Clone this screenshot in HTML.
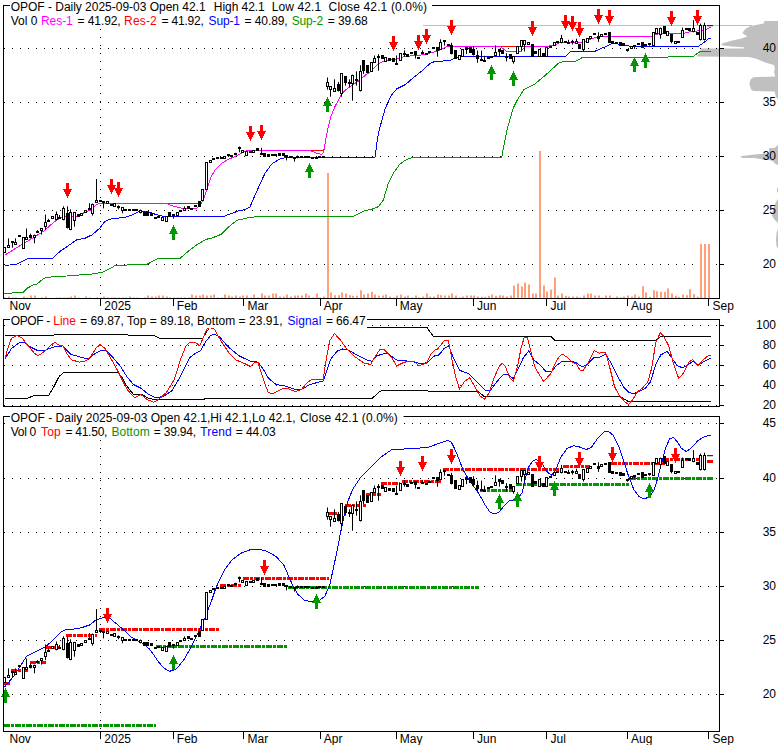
<!DOCTYPE html>
<html><head><meta charset="utf-8"><title>OPOF chart</title>
<style>html,body{margin:0;padding:0;background:#fff}svg{display:block}text{font-family:"Liberation Sans",Arial,sans-serif;font-size:12px}</style></head>
<body><svg width="780" height="745" viewBox="0 0 780 745">
<rect width="780" height="745" fill="#fff"/>
<polygon points="778.0,21.0 764.5,21.1 763.7,23.6 750.5,26.0 745.3,28.9 742.3,32.9 747.5,36.6 740.8,38.8 731.2,40.7 721.6,43.7 721.6,45.2 731.2,46.6 743.8,47.2 743.8,48.4 700.5,48.4 700.5,52.5 697.0,55.5 697.0,56.6 749.0,57.0 756.4,58.7 765.2,62.4 774.1,64.9 774.8,69.1 774.1,72.0 775.3,76.5 753.4,77.2 750.5,79.4 749.3,83.9 751.2,89.8 753.4,90.9 774.8,91.5 775.9,97.1 778.0,99.0" fill="#c0c0c0"/>
<polygon points="778.0,145.0 774.4,148.1 769.1,148.1 768.9,153.8 763.4,153.8 754.5,154.4 746.4,155.5 740.1,156.2 742.3,157.9 754.5,158.0 763.4,159.5 769.3,159.9 773.3,161.4 775.9,164.5 778.0,164.8" fill="#c0c0c0"/>
<polygon points="778.0,187.5 777.0,188.0 777.0,192.0 778.0,192.5" fill="#c0c0c0"/>
<polygon points="778.0,198.8 775.5,203.0 773.5,208.0 772.3,213.0 772.0,215.5 774.0,219.0 778.0,223.0" fill="#c0c0c0"/>
<polygon points="778.0,229.0 776.5,233.0 776.0,240.0 776.5,246.0 778.0,249.0" fill="#c0c0c0"/>
<line x1="423" y1="25.5" x2="752" y2="25.5" stroke="#c0c0c0" stroke-width="1" shape-rendering="crispEdges"/>
<line x1="4" y1="48.5" x2="717" y2="48.5" stroke="#000" stroke-width="1" stroke-dasharray="1 7" shape-rendering="crispEdges"/>
<line x1="4" y1="102.5" x2="717" y2="102.5" stroke="#000" stroke-width="1" stroke-dasharray="1 7" shape-rendering="crispEdges"/>
<line x1="4" y1="156.5" x2="717" y2="156.5" stroke="#000" stroke-width="1" stroke-dasharray="1 7" shape-rendering="crispEdges"/>
<line x1="4" y1="210.5" x2="717" y2="210.5" stroke="#000" stroke-width="1" stroke-dasharray="1 7" shape-rendering="crispEdges"/>
<line x1="4" y1="264.5" x2="717" y2="264.5" stroke="#000" stroke-width="1" stroke-dasharray="1 7" shape-rendering="crispEdges"/>
<line x1="100.5" y1="29" x2="100.5" y2="298.5" stroke="#000" stroke-width="1" stroke-dasharray="1 7" shape-rendering="crispEdges"/>
<rect x="4" y="297.5" width="2" height="1.0" fill="#ffa07a"/>
<rect x="8" y="296.5" width="2" height="2.0" fill="#ffa07a"/>
<rect x="12" y="297.5" width="2" height="1.0" fill="#ffa07a"/>
<rect x="15" y="297.5" width="2" height="1.0" fill="#ffa07a"/>
<rect x="19" y="298.5" width="2" height="0.0" fill="#ffa07a"/>
<rect x="23" y="296.5" width="2" height="2.0" fill="#ffa07a"/>
<rect x="26" y="297.5" width="2" height="1.0" fill="#ffa07a"/>
<rect x="30" y="295.5" width="2" height="3.0" fill="#ffa07a"/>
<rect x="34" y="295.5" width="2" height="3.0" fill="#ffa07a"/>
<rect x="37" y="298.5" width="2" height="0.0" fill="#ffa07a"/>
<rect x="41" y="297.5" width="2" height="1.0" fill="#ffa07a"/>
<rect x="45" y="296.5" width="2" height="2.0" fill="#ffa07a"/>
<rect x="48" y="298.5" width="2" height="0.0" fill="#ffa07a"/>
<rect x="52" y="298.5" width="2" height="0.0" fill="#ffa07a"/>
<rect x="56" y="297.5" width="2" height="1.0" fill="#ffa07a"/>
<rect x="59" y="297.5" width="2" height="1.0" fill="#ffa07a"/>
<rect x="63" y="297.5" width="2" height="1.0" fill="#ffa07a"/>
<rect x="67" y="297.5" width="2" height="1.0" fill="#ffa07a"/>
<rect x="70" y="296.5" width="2" height="2.0" fill="#ffa07a"/>
<rect x="74" y="295.5" width="2" height="3.0" fill="#ffa07a"/>
<rect x="78" y="297.5" width="2" height="1.0" fill="#ffa07a"/>
<rect x="81" y="298.5" width="2" height="0.0" fill="#ffa07a"/>
<rect x="85" y="296.5" width="2" height="2.0" fill="#ffa07a"/>
<rect x="89" y="297.5" width="2" height="1.0" fill="#ffa07a"/>
<rect x="92" y="298.5" width="2" height="0.0" fill="#ffa07a"/>
<rect x="96" y="297.5" width="2" height="1.0" fill="#ffa07a"/>
<rect x="100" y="297.5" width="2" height="1.0" fill="#ffa07a"/>
<rect x="103" y="296.5" width="2" height="2.0" fill="#ffa07a"/>
<rect x="107" y="297.5" width="2" height="1.0" fill="#ffa07a"/>
<rect x="111" y="297.5" width="2" height="1.0" fill="#ffa07a"/>
<rect x="114" y="297.5" width="2" height="1.0" fill="#ffa07a"/>
<rect x="118" y="297.5" width="2" height="1.0" fill="#ffa07a"/>
<rect x="122" y="297.5" width="2" height="1.0" fill="#ffa07a"/>
<rect x="125" y="297.5" width="2" height="1.0" fill="#ffa07a"/>
<rect x="129" y="296.5" width="2" height="2.0" fill="#ffa07a"/>
<rect x="133" y="297.5" width="2" height="1.0" fill="#ffa07a"/>
<rect x="136" y="297.5" width="2" height="1.0" fill="#ffa07a"/>
<rect x="140" y="298.5" width="2" height="0.0" fill="#ffa07a"/>
<rect x="144" y="297.5" width="2" height="1.0" fill="#ffa07a"/>
<rect x="147" y="295.5" width="2" height="3.0" fill="#ffa07a"/>
<rect x="151" y="296.5" width="2" height="2.0" fill="#ffa07a"/>
<rect x="155" y="296.5" width="2" height="2.0" fill="#ffa07a"/>
<rect x="158" y="295.5" width="2" height="3.0" fill="#ffa07a"/>
<rect x="162" y="295.5" width="2" height="3.0" fill="#ffa07a"/>
<rect x="166" y="296.5" width="2" height="2.0" fill="#ffa07a"/>
<rect x="169" y="297.5" width="2" height="1.0" fill="#ffa07a"/>
<rect x="173" y="297.5" width="2" height="1.0" fill="#ffa07a"/>
<rect x="177" y="297.5" width="2" height="1.0" fill="#ffa07a"/>
<rect x="180" y="297.5" width="2" height="1.0" fill="#ffa07a"/>
<rect x="184" y="297.5" width="2" height="1.0" fill="#ffa07a"/>
<rect x="188" y="297.5" width="2" height="1.0" fill="#ffa07a"/>
<rect x="191" y="294.5" width="2" height="4.0" fill="#ffa07a"/>
<rect x="195" y="295.5" width="2" height="3.0" fill="#ffa07a"/>
<rect x="199" y="295.5" width="2" height="3.0" fill="#ffa07a"/>
<rect x="202" y="294.5" width="2" height="4.0" fill="#ffa07a"/>
<rect x="206" y="295.5" width="2" height="3.0" fill="#ffa07a"/>
<rect x="210" y="295.5" width="2" height="3.0" fill="#ffa07a"/>
<rect x="213" y="294.5" width="2" height="4.0" fill="#ffa07a"/>
<rect x="217" y="297.5" width="2" height="1.0" fill="#ffa07a"/>
<rect x="221" y="297.5" width="2" height="1.0" fill="#ffa07a"/>
<rect x="224" y="294.5" width="2" height="4.0" fill="#ffa07a"/>
<rect x="228" y="295.5" width="2" height="3.0" fill="#ffa07a"/>
<rect x="231" y="296.5" width="2" height="2.0" fill="#ffa07a"/>
<rect x="235" y="295.5" width="2" height="3.0" fill="#ffa07a"/>
<rect x="239" y="296.5" width="2" height="2.0" fill="#ffa07a"/>
<rect x="242" y="295.5" width="2" height="3.0" fill="#ffa07a"/>
<rect x="246" y="295.5" width="2" height="3.0" fill="#ffa07a"/>
<rect x="250" y="297.5" width="2" height="1.0" fill="#ffa07a"/>
<rect x="253" y="294.5" width="2" height="4.0" fill="#ffa07a"/>
<rect x="257" y="297.5" width="2" height="1.0" fill="#ffa07a"/>
<rect x="261" y="293.5" width="2" height="5.0" fill="#ffa07a"/>
<rect x="264" y="295.5" width="2" height="3.0" fill="#ffa07a"/>
<rect x="268" y="295.5" width="2" height="3.0" fill="#ffa07a"/>
<rect x="272" y="293.5" width="2" height="5.0" fill="#ffa07a"/>
<rect x="275" y="293.5" width="2" height="5.0" fill="#ffa07a"/>
<rect x="279" y="296.5" width="2" height="2.0" fill="#ffa07a"/>
<rect x="283" y="296.5" width="2" height="2.0" fill="#ffa07a"/>
<rect x="286" y="294.5" width="2" height="4.0" fill="#ffa07a"/>
<rect x="290" y="296.5" width="2" height="2.0" fill="#ffa07a"/>
<rect x="294" y="295.5" width="2" height="3.0" fill="#ffa07a"/>
<rect x="297" y="295.5" width="2" height="3.0" fill="#ffa07a"/>
<rect x="301" y="295.5" width="2" height="3.0" fill="#ffa07a"/>
<rect x="305" y="293.5" width="2" height="5.0" fill="#ffa07a"/>
<rect x="308" y="295.5" width="2" height="3.0" fill="#ffa07a"/>
<rect x="312" y="297.5" width="2" height="1.0" fill="#ffa07a"/>
<rect x="316" y="293.5" width="2" height="5.0" fill="#ffa07a"/>
<rect x="319" y="297.5" width="2" height="1.0" fill="#ffa07a"/>
<rect x="323" y="296.5" width="2" height="2.0" fill="#ffa07a"/>
<rect x="327" y="173.0" width="2" height="125.5" fill="#ffa07a"/>
<rect x="330" y="292.5" width="2" height="6.0" fill="#ffa07a"/>
<rect x="334" y="295.2" width="2" height="3.3" fill="#ffa07a"/>
<rect x="338" y="295.2" width="2" height="3.3" fill="#ffa07a"/>
<rect x="341" y="292.5" width="2" height="6.0" fill="#ffa07a"/>
<rect x="345" y="293.5" width="2" height="5.0" fill="#ffa07a"/>
<rect x="349" y="295.2" width="2" height="3.3" fill="#ffa07a"/>
<rect x="352" y="295.8" width="2" height="2.7" fill="#ffa07a"/>
<rect x="356" y="295.8" width="2" height="2.7" fill="#ffa07a"/>
<rect x="360" y="290.2" width="2" height="8.3" fill="#ffa07a"/>
<rect x="363" y="294.5" width="2" height="4.0" fill="#ffa07a"/>
<rect x="367" y="293.5" width="2" height="5.0" fill="#ffa07a"/>
<rect x="371" y="291.8" width="2" height="6.7" fill="#ffa07a"/>
<rect x="374" y="294.5" width="2" height="4.0" fill="#ffa07a"/>
<rect x="378" y="295.8" width="2" height="2.7" fill="#ffa07a"/>
<rect x="382" y="295.5" width="2" height="3.0" fill="#ffa07a"/>
<rect x="385" y="294.5" width="2" height="4.0" fill="#ffa07a"/>
<rect x="389" y="296.5" width="2" height="2.0" fill="#ffa07a"/>
<rect x="393" y="297.5" width="2" height="1.0" fill="#ffa07a"/>
<rect x="396" y="295.5" width="2" height="3.0" fill="#ffa07a"/>
<rect x="400" y="294.5" width="2" height="4.0" fill="#ffa07a"/>
<rect x="404" y="296.5" width="2" height="2.0" fill="#ffa07a"/>
<rect x="407" y="295.5" width="2" height="3.0" fill="#ffa07a"/>
<rect x="411" y="297.5" width="2" height="1.0" fill="#ffa07a"/>
<rect x="415" y="295.5" width="2" height="3.0" fill="#ffa07a"/>
<rect x="418" y="297.5" width="2" height="1.0" fill="#ffa07a"/>
<rect x="422" y="296.5" width="2" height="2.0" fill="#ffa07a"/>
<rect x="426" y="293.5" width="2" height="5.0" fill="#ffa07a"/>
<rect x="429" y="296.5" width="2" height="2.0" fill="#ffa07a"/>
<rect x="433" y="296.5" width="2" height="2.0" fill="#ffa07a"/>
<rect x="437" y="294.5" width="2" height="4.0" fill="#ffa07a"/>
<rect x="440" y="295.2" width="2" height="3.3" fill="#ffa07a"/>
<rect x="444" y="295.5" width="2" height="3.0" fill="#ffa07a"/>
<rect x="448" y="295.5" width="2" height="3.0" fill="#ffa07a"/>
<rect x="451" y="293.5" width="2" height="5.0" fill="#ffa07a"/>
<rect x="455" y="295.5" width="2" height="3.0" fill="#ffa07a"/>
<rect x="459" y="297.5" width="2" height="1.0" fill="#ffa07a"/>
<rect x="462" y="296.5" width="2" height="2.0" fill="#ffa07a"/>
<rect x="466" y="295.5" width="2" height="3.0" fill="#ffa07a"/>
<rect x="470" y="295.5" width="2" height="3.0" fill="#ffa07a"/>
<rect x="473" y="295.5" width="2" height="3.0" fill="#ffa07a"/>
<rect x="477" y="296.5" width="2" height="2.0" fill="#ffa07a"/>
<rect x="481" y="296.8" width="2" height="1.7" fill="#ffa07a"/>
<rect x="484" y="296.8" width="2" height="1.7" fill="#ffa07a"/>
<rect x="488" y="295.8" width="2" height="2.7" fill="#ffa07a"/>
<rect x="491" y="294.5" width="2" height="4.0" fill="#ffa07a"/>
<rect x="495" y="295.8" width="2" height="2.7" fill="#ffa07a"/>
<rect x="499" y="295.2" width="2" height="3.3" fill="#ffa07a"/>
<rect x="502" y="295.5" width="2" height="3.0" fill="#ffa07a"/>
<rect x="506" y="296.5" width="2" height="2.0" fill="#ffa07a"/>
<rect x="510" y="295.5" width="2" height="3.0" fill="#ffa07a"/>
<rect x="513" y="285.5" width="2" height="13.0" fill="#ffa07a"/>
<rect x="517" y="283.5" width="2" height="15.0" fill="#ffa07a"/>
<rect x="521" y="286.5" width="2" height="12.0" fill="#ffa07a"/>
<rect x="524" y="282.5" width="2" height="16.0" fill="#ffa07a"/>
<rect x="528" y="284.5" width="2" height="14.0" fill="#ffa07a"/>
<rect x="532" y="293.5" width="2" height="5.0" fill="#ffa07a"/>
<rect x="535" y="293.5" width="2" height="5.0" fill="#ffa07a"/>
<rect x="539" y="151.0" width="2" height="147.5" fill="#ffa07a"/>
<rect x="543" y="285.5" width="2" height="13.0" fill="#ffa07a"/>
<rect x="546" y="291.5" width="2" height="7.0" fill="#ffa07a"/>
<rect x="550" y="289.5" width="2" height="9.0" fill="#ffa07a"/>
<rect x="554" y="277.5" width="2" height="21.0" fill="#ffa07a"/>
<rect x="557" y="295.5" width="2" height="3.0" fill="#ffa07a"/>
<rect x="561" y="293.5" width="2" height="5.0" fill="#ffa07a"/>
<rect x="565" y="295.8" width="2" height="2.7" fill="#ffa07a"/>
<rect x="568" y="296.5" width="2" height="2.0" fill="#ffa07a"/>
<rect x="572" y="296.5" width="2" height="2.0" fill="#ffa07a"/>
<rect x="576" y="296.5" width="2" height="2.0" fill="#ffa07a"/>
<rect x="579" y="297.5" width="2" height="1.0" fill="#ffa07a"/>
<rect x="583" y="295.5" width="2" height="3.0" fill="#ffa07a"/>
<rect x="587" y="293.5" width="2" height="5.0" fill="#ffa07a"/>
<rect x="590" y="293.5" width="2" height="5.0" fill="#ffa07a"/>
<rect x="594" y="295.5" width="2" height="3.0" fill="#ffa07a"/>
<rect x="598" y="295.5" width="2" height="3.0" fill="#ffa07a"/>
<rect x="601" y="297.5" width="2" height="1.0" fill="#ffa07a"/>
<rect x="605" y="295.5" width="2" height="3.0" fill="#ffa07a"/>
<rect x="609" y="295.5" width="2" height="3.0" fill="#ffa07a"/>
<rect x="612" y="297.5" width="2" height="1.0" fill="#ffa07a"/>
<rect x="616" y="296.5" width="2" height="2.0" fill="#ffa07a"/>
<rect x="620" y="297.5" width="2" height="1.0" fill="#ffa07a"/>
<rect x="623" y="296.5" width="2" height="2.0" fill="#ffa07a"/>
<rect x="627" y="295.5" width="2" height="3.0" fill="#ffa07a"/>
<rect x="631" y="296.5" width="2" height="2.0" fill="#ffa07a"/>
<rect x="634" y="294.5" width="2" height="4.0" fill="#ffa07a"/>
<rect x="638" y="296.5" width="2" height="2.0" fill="#ffa07a"/>
<rect x="642" y="286.2" width="2" height="12.3" fill="#ffa07a"/>
<rect x="645" y="292.5" width="2" height="6.0" fill="#ffa07a"/>
<rect x="649" y="296.8" width="2" height="1.7" fill="#ffa07a"/>
<rect x="653" y="290.2" width="2" height="8.3" fill="#ffa07a"/>
<rect x="656" y="291.2" width="2" height="7.3" fill="#ffa07a"/>
<rect x="660" y="291.8" width="2" height="6.7" fill="#ffa07a"/>
<rect x="664" y="291.8" width="2" height="6.7" fill="#ffa07a"/>
<rect x="667" y="288.5" width="2" height="10.0" fill="#ffa07a"/>
<rect x="671" y="293.5" width="2" height="5.0" fill="#ffa07a"/>
<rect x="675" y="295.8" width="2" height="2.7" fill="#ffa07a"/>
<rect x="678" y="296.8" width="2" height="1.7" fill="#ffa07a"/>
<rect x="682" y="294.5" width="2" height="4.0" fill="#ffa07a"/>
<rect x="686" y="295.2" width="2" height="3.3" fill="#ffa07a"/>
<rect x="689" y="289.2" width="2" height="9.3" fill="#ffa07a"/>
<rect x="693" y="294.2" width="2" height="4.3" fill="#ffa07a"/>
<rect x="697" y="296.8" width="2" height="1.7" fill="#ffa07a"/>
<rect x="700" y="244.0" width="2" height="54.5" fill="#ffa07a"/>
<rect x="704" y="244.0" width="2" height="54.5" fill="#ffa07a"/>
<rect x="708" y="244.0" width="2" height="54.5" fill="#ffa07a"/>
<polyline points="4.0,293.5 23.3,292.3 27.9,287.8 33.3,285.0 36.6,284.3 43.6,278.6 46.7,277.3 66.7,276.0 94.2,273.8 103.0,272.0 111.7,267.7 115.2,265.3 146.7,264.5 156.7,259.0 180.0,258.3 189.8,250.0 196.8,244.8 205.5,239.5 212.5,237.8 221.2,234.3 228.2,227.3 237.0,220.3 250.0,217.4 260.0,216.3 353.3,216.3 365.0,210.7 371.7,209.3 378.3,206.7 383.3,200.0 388.3,183.3 393.3,173.3 400.0,164.0 406.7,159.3 413.3,157.3 501.7,157.3 505.0,140.0 507.0,130.0 513.2,108.2 516.6,101.2 523.6,89.9 534.1,84.6 544.6,75.9 558.5,63.2 563.8,61.4 576.0,61.1 583.0,57.2 668.0,57.2 669.8,56.2 693.4,56.2 700.3,51.5 710.8,51.5" fill="none" stroke="#009600" stroke-width="1" shape-rendering="crispEdges" />
<polyline points="5.2,265.5 16.6,264.2 27.9,258.7 52.4,258.5 60.2,251.2 68.0,245.9 76.8,239.8 85.5,238.0 92.5,234.6 100.3,227.6 104.7,221.5 110.0,219.2 122.2,217.5 127.0,216.9 134.0,214.2 139.2,211.5 146.2,211.2 155.0,214.2 161.9,216.0 224.7,216.0 231.7,213.4 238.7,210.8 244.0,209.9 250.0,206.9 256.0,193.0 260.0,184.0 265.0,173.3 271.7,164.0 280.0,158.8 286.7,157.4 375.0,157.4 377.3,140.0 379.2,130.0 385.3,108.2 391.4,95.1 396.6,89.0 405.4,84.6 412.4,78.5 421.1,71.6 429.8,63.7 435.0,61.4 450.0,60.7 454.6,58.1 459.2,56.7 565.5,56.7 570.8,51.5 595.2,51.1 602.2,48.0 607.0,46.2 612.2,43.3 622.7,44.5 629.7,46.2 698.6,46.2 704.7,41.9 709.0,38.4 710.8,38.4" fill="none" stroke="#00f" stroke-width="1" shape-rendering="crispEdges" />
<polyline points="166.2,203.4 197.7,203.4 200.3,205.5" fill="none" stroke="#f00" stroke-width="1" shape-rendering="crispEdges" />
<polyline points="309.8,150.3 323.8,150.3 324.6,144.7" fill="none" stroke="#f00" stroke-width="1" shape-rendering="crispEdges" />
<polyline points="500.0,46.2 517.5,46.2 525.4,46.2" fill="none" stroke="#f00" stroke-width="1" shape-rendering="crispEdges" />
<polyline points="5.2,254.8 21.5,244.8 34.9,236.7 44.3,230.7 49.5,226.0 55.0,221.3 60.4,218.2 64.4,216.5 77.0,216.0 85.9,211.9 92.0,209.5 96.6,204.5 100.0,203.4 166.2,203.4 172.4,205.9 181.0,208.1 189.8,209.0 196.8,208.1 200.3,205.5 203.8,198.5 207.3,188.0 210.8,177.6 215.1,169.7 221.2,163.6 228.2,159.3 235.2,156.6 242.2,152.8 246.0,151.0 250.5,150.3 309.8,150.3 316.8,153.4 322.0,154.3 323.8,151.7 325.5,141.2 328.1,127.3 330.8,116.8 335.1,106.3 341.2,95.0 344.7,90.6 351.7,85.4 358.7,81.0 365.7,74.9 370.0,72.3 374.0,68.1 379.2,63.2 386.2,60.2 394.9,59.3 403.6,56.7 412.4,55.8 421.1,55.0 429.8,53.2 438.5,50.6 447.3,46.2 500.0,46.2 506.2,51.0 521.0,51.0 525.4,46.2 547.2,46.2 553.3,45.7 560.3,42.2 583.0,42.2 591.7,38.7 598.7,36.6 604.0,36.3 652.4,36.3 657.6,34.0 683.8,33.5 690.8,31.4 704.7,30.5 710.8,27.0" fill="none" stroke="#f0f" stroke-width="1" shape-rendering="crispEdges" />
<rect x="3.5" y="247.5" width="2" height="5" fill="#fff" stroke="#000" stroke-width="1" shape-rendering="crispEdges"/>
<line x1="8.5" y1="238.4" x2="8.5" y2="247.1" stroke="#000" stroke-width="1"/>
<rect x="7.5" y="245.5" width="2" height="2" fill="#fff" stroke="#000" stroke-width="1" shape-rendering="crispEdges"/>
<line x1="12.5" y1="242.4" x2="12.5" y2="247.7" stroke="#000" stroke-width="1"/>
<rect x="11.0" y="241" width="3" height="2" fill="#000"/>
<line x1="15.5" y1="238.4" x2="15.5" y2="244.2" stroke="#000" stroke-width="1"/>
<rect x="14.5" y="242.5" width="2" height="2" fill="#fff" stroke="#000" stroke-width="1" shape-rendering="crispEdges"/>
<rect x="18.0" y="235" width="3" height="2" fill="#000"/>
<rect x="22.5" y="237.5" width="2" height="11" fill="#fff" stroke="#000" stroke-width="1" shape-rendering="crispEdges"/>
<line x1="26.5" y1="228.5" x2="26.5" y2="239.8" stroke="#000" stroke-width="1"/>
<rect x="25.5" y="237.5" width="2" height="2" fill="#fff" stroke="#000" stroke-width="1" shape-rendering="crispEdges"/>
<line x1="30.5" y1="233.7" x2="30.5" y2="238.4" stroke="#000" stroke-width="1"/>
<rect x="29.0" y="235" width="3" height="3" fill="#000"/>
<line x1="34.5" y1="234.6" x2="34.5" y2="243.3" stroke="#000" stroke-width="1"/>
<rect x="33.5" y="235.5" width="2" height="2" fill="#fff" stroke="#000" stroke-width="1" shape-rendering="crispEdges"/>
<line x1="37.5" y1="230.2" x2="37.5" y2="231.9" stroke="#000" stroke-width="1"/>
<rect x="36.0" y="231" width="3" height="2" fill="#000"/>
<line x1="41.5" y1="228.5" x2="41.5" y2="234.6" stroke="#000" stroke-width="1"/>
<rect x="40.5" y="228.5" width="2" height="2" fill="#fff" stroke="#000" stroke-width="1" shape-rendering="crispEdges"/>
<line x1="45.5" y1="214.5" x2="45.5" y2="230.2" stroke="#000" stroke-width="1"/>
<rect x="44.5" y="222.5" width="2" height="4" fill="#fff" stroke="#000" stroke-width="1" shape-rendering="crispEdges"/>
<line x1="48.5" y1="218.9" x2="48.5" y2="221.5" stroke="#000" stroke-width="1"/>
<rect x="47.0" y="220" width="3" height="2" fill="#000"/>
<rect x="51.5" y="216.5" width="2" height="2" fill="#fff" stroke="#000" stroke-width="1" shape-rendering="crispEdges"/>
<line x1="56.5" y1="211.5" x2="56.5" y2="220.3" stroke="#000" stroke-width="1"/>
<rect x="55.5" y="214.5" width="2" height="5" fill="#fff" stroke="#000" stroke-width="1" shape-rendering="crispEdges"/>
<line x1="59.5" y1="215.0" x2="59.5" y2="218.0" stroke="#000" stroke-width="1"/>
<rect x="58.0" y="217" width="3" height="2" fill="#000"/>
<line x1="63.5" y1="206.3" x2="63.5" y2="220.3" stroke="#000" stroke-width="1"/>
<rect x="62.5" y="208.5" width="2" height="11" fill="#fff" stroke="#000" stroke-width="1" shape-rendering="crispEdges"/>
<line x1="67.5" y1="206.3" x2="67.5" y2="228.5" stroke="#000" stroke-width="1"/>
<rect x="66.0" y="213" width="3" height="15" fill="#000"/>
<line x1="70.5" y1="209.3" x2="70.5" y2="230.2" stroke="#000" stroke-width="1"/>
<rect x="69.5" y="212.5" width="2" height="17" fill="#fff" stroke="#000" stroke-width="1" shape-rendering="crispEdges"/>
<line x1="74.5" y1="211.9" x2="74.5" y2="226.7" stroke="#000" stroke-width="1"/>
<rect x="73.5" y="212.5" width="2" height="8" fill="#fff" stroke="#000" stroke-width="1" shape-rendering="crispEdges"/>
<rect x="77.0" y="214" width="3" height="3" fill="#000"/>
<rect x="80.5" y="213.5" width="2" height="2" fill="#fff" stroke="#000" stroke-width="1" shape-rendering="crispEdges"/>
<rect x="84.5" y="210.5" width="2" height="2" fill="#fff" stroke="#000" stroke-width="1" shape-rendering="crispEdges"/>
<line x1="89.5" y1="203.2" x2="89.5" y2="208.7" stroke="#000" stroke-width="1"/>
<rect x="88.0" y="208" width="3" height="2" fill="#000"/>
<line x1="92.5" y1="203.5" x2="92.5" y2="215.7" stroke="#000" stroke-width="1"/>
<rect x="91.5" y="204.5" width="2" height="9" fill="#fff" stroke="#000" stroke-width="1" shape-rendering="crispEdges"/>
<line x1="96.5" y1="179.1" x2="96.5" y2="202.3" stroke="#000" stroke-width="1"/>
<rect x="95.5" y="200.5" width="2" height="2" fill="#fff" stroke="#000" stroke-width="1" shape-rendering="crispEdges"/>
<rect x="99.0" y="200" width="3" height="2" fill="#000"/>
<line x1="103.5" y1="201.9" x2="103.5" y2="208.4" stroke="#000" stroke-width="1"/>
<rect x="102.0" y="201" width="3" height="2" fill="#000"/>
<rect x="106.5" y="201.5" width="2" height="2" fill="#fff" stroke="#000" stroke-width="1" shape-rendering="crispEdges"/>
<rect x="110.0" y="204" width="3" height="2" fill="#000"/>
<rect x="113.5" y="203.5" width="2" height="3" fill="#fff" stroke="#000" stroke-width="1" shape-rendering="crispEdges"/>
<line x1="118.5" y1="205.4" x2="118.5" y2="209.3" stroke="#000" stroke-width="1"/>
<rect x="117.0" y="206" width="3" height="2" fill="#000"/>
<line x1="122.5" y1="207.2" x2="122.5" y2="213.3" stroke="#000" stroke-width="1"/>
<rect x="121.5" y="207.5" width="2" height="3" fill="#fff" stroke="#000" stroke-width="1" shape-rendering="crispEdges"/>
<rect x="124.0" y="209" width="3" height="2" fill="#000"/>
<rect x="128.0" y="209" width="3" height="2" fill="#000"/>
<rect x="132.0" y="209" width="3" height="2" fill="#000"/>
<rect x="135.0" y="209" width="3" height="2" fill="#000"/>
<line x1="140.5" y1="209.5" x2="140.5" y2="213.4" stroke="#000" stroke-width="1"/>
<rect x="139.5" y="210.5" width="2" height="2" fill="#fff" stroke="#000" stroke-width="1" shape-rendering="crispEdges"/>
<rect x="143.0" y="212" width="3" height="4" fill="#000"/>
<rect x="146.0" y="212" width="3" height="4" fill="#000"/>
<rect x="150.0" y="213" width="3" height="3" fill="#000"/>
<rect x="154.0" y="217" width="3" height="2" fill="#000"/>
<rect x="157.0" y="216" width="3" height="2" fill="#000"/>
<rect x="161.5" y="217.5" width="2" height="3" fill="#fff" stroke="#000" stroke-width="1" shape-rendering="crispEdges"/>
<rect x="165.5" y="216.5" width="2" height="5" fill="#fff" stroke="#000" stroke-width="1" shape-rendering="crispEdges"/>
<rect x="168.0" y="212" width="3" height="5" fill="#000"/>
<line x1="173.5" y1="215.1" x2="173.5" y2="218.6" stroke="#000" stroke-width="1"/>
<rect x="172.0" y="214" width="3" height="2" fill="#000"/>
<rect x="176.5" y="212.5" width="2" height="3" fill="#fff" stroke="#000" stroke-width="1" shape-rendering="crispEdges"/>
<rect x="179.0" y="210" width="3" height="2" fill="#000"/>
<line x1="184.5" y1="206.4" x2="184.5" y2="210.4" stroke="#000" stroke-width="1"/>
<rect x="183.5" y="208.5" width="2" height="2" fill="#fff" stroke="#000" stroke-width="1" shape-rendering="crispEdges"/>
<rect x="187.0" y="206" width="3" height="3" fill="#000"/>
<rect x="190.0" y="208" width="3" height="2" fill="#000"/>
<rect x="194.0" y="205" width="3" height="2" fill="#000"/>
<rect x="198.0" y="201" width="3" height="6" fill="#000"/>
<rect x="201.5" y="189.5" width="2" height="11" fill="#fff" stroke="#000" stroke-width="1" shape-rendering="crispEdges"/>
<rect x="205.5" y="162.5" width="2" height="27" fill="#fff" stroke="#000" stroke-width="1" shape-rendering="crispEdges"/>
<rect x="209.5" y="160.5" width="2" height="2" fill="#fff" stroke="#000" stroke-width="1" shape-rendering="crispEdges"/>
<rect x="212.0" y="158" width="3" height="2" fill="#000"/>
<rect x="216.0" y="157" width="3" height="2" fill="#000"/>
<rect x="220.0" y="157" width="3" height="2" fill="#000"/>
<rect x="223.5" y="156.5" width="2" height="2" fill="#fff" stroke="#000" stroke-width="1" shape-rendering="crispEdges"/>
<rect x="227.0" y="154" width="3" height="2" fill="#000"/>
<rect x="230.0" y="155" width="3" height="2" fill="#000"/>
<line x1="235.5" y1="152.8" x2="235.5" y2="155.2" stroke="#000" stroke-width="1"/>
<rect x="234.0" y="153" width="3" height="2" fill="#000"/>
<line x1="239.5" y1="146.5" x2="239.5" y2="152.3" stroke="#000" stroke-width="1"/>
<rect x="238.0" y="147" width="3" height="2" fill="#000"/>
<rect x="241.5" y="150.5" width="2" height="2" fill="#fff" stroke="#000" stroke-width="1" shape-rendering="crispEdges"/>
<rect x="245.5" y="151.5" width="2" height="4" fill="#fff" stroke="#000" stroke-width="1" shape-rendering="crispEdges"/>
<rect x="249.0" y="151" width="3" height="2" fill="#000"/>
<rect x="252.5" y="150.5" width="2" height="2" fill="#fff" stroke="#000" stroke-width="1" shape-rendering="crispEdges"/>
<rect x="256.0" y="148" width="3" height="3" fill="#000"/>
<line x1="261.5" y1="147.8" x2="261.5" y2="155.2" stroke="#000" stroke-width="1"/>
<rect x="260.0" y="153" width="3" height="2" fill="#000"/>
<rect x="263.0" y="153" width="3" height="4" fill="#000"/>
<rect x="267.0" y="154" width="3" height="3" fill="#000"/>
<rect x="271.0" y="154" width="3" height="2" fill="#000"/>
<rect x="274.0" y="154" width="3" height="2" fill="#000"/>
<rect x="278.0" y="153" width="3" height="3" fill="#000"/>
<rect x="282.0" y="153" width="3" height="3" fill="#000"/>
<line x1="286.5" y1="155.2" x2="286.5" y2="160.4" stroke="#000" stroke-width="1"/>
<rect x="285.0" y="155" width="3" height="2" fill="#000"/>
<rect x="289.0" y="156" width="3" height="2" fill="#000"/>
<line x1="294.5" y1="157.8" x2="294.5" y2="161.6" stroke="#000" stroke-width="1"/>
<rect x="293.0" y="157" width="3" height="2" fill="#000"/>
<line x1="297.5" y1="155.5" x2="297.5" y2="158.3" stroke="#000" stroke-width="1"/>
<rect x="296.0" y="156" width="3" height="2" fill="#000"/>
<rect x="300.0" y="156" width="3" height="2" fill="#000"/>
<rect x="304.0" y="156" width="3" height="2" fill="#000"/>
<rect x="307.0" y="156" width="3" height="2" fill="#000"/>
<rect x="311.0" y="157" width="3" height="2" fill="#000"/>
<rect x="315.0" y="157" width="3" height="2" fill="#000"/>
<rect x="318.0" y="156" width="3" height="2" fill="#000"/>
<rect x="322.0" y="156" width="3" height="2" fill="#000"/>
<line x1="327.5" y1="77.5" x2="327.5" y2="89.7" stroke="#000" stroke-width="1"/>
<rect x="326.5" y="82.5" width="2" height="4" fill="#fff" stroke="#000" stroke-width="1" shape-rendering="crispEdges"/>
<line x1="330.5" y1="86.2" x2="330.5" y2="96.7" stroke="#000" stroke-width="1"/>
<rect x="329.5" y="86.5" width="2" height="3" fill="#fff" stroke="#000" stroke-width="1" shape-rendering="crispEdges"/>
<line x1="334.5" y1="79.3" x2="334.5" y2="92.0" stroke="#000" stroke-width="1"/>
<rect x="333.5" y="88.5" width="2" height="3" fill="#fff" stroke="#000" stroke-width="1" shape-rendering="crispEdges"/>
<line x1="338.5" y1="81.9" x2="338.5" y2="91.5" stroke="#000" stroke-width="1"/>
<rect x="337.0" y="84" width="3" height="7" fill="#000"/>
<line x1="341.5" y1="73.2" x2="341.5" y2="96.7" stroke="#000" stroke-width="1"/>
<rect x="340.5" y="73.5" width="2" height="20" fill="#fff" stroke="#000" stroke-width="1" shape-rendering="crispEdges"/>
<line x1="345.5" y1="76.3" x2="345.5" y2="85.7" stroke="#000" stroke-width="1"/>
<rect x="344.0" y="76" width="3" height="7" fill="#000"/>
<line x1="349.5" y1="79.3" x2="349.5" y2="87.1" stroke="#000" stroke-width="1"/>
<rect x="348.0" y="82" width="3" height="2" fill="#000"/>
<line x1="352.5" y1="74.6" x2="352.5" y2="100.7" stroke="#000" stroke-width="1"/>
<rect x="351.5" y="75.5" width="2" height="8" fill="#fff" stroke="#000" stroke-width="1" shape-rendering="crispEdges"/>
<line x1="356.5" y1="71.4" x2="356.5" y2="85.7" stroke="#000" stroke-width="1"/>
<rect x="355.0" y="79" width="3" height="2" fill="#000"/>
<line x1="360.5" y1="65.3" x2="360.5" y2="91.5" stroke="#000" stroke-width="1"/>
<rect x="359.5" y="71.5" width="2" height="19" fill="#fff" stroke="#000" stroke-width="1" shape-rendering="crispEdges"/>
<line x1="363.5" y1="60.1" x2="363.5" y2="74.0" stroke="#000" stroke-width="1"/>
<rect x="362.0" y="60" width="3" height="11" fill="#000"/>
<rect x="366.0" y="65" width="3" height="8" fill="#000"/>
<rect x="370.5" y="62.5" width="2" height="9" fill="#fff" stroke="#000" stroke-width="1" shape-rendering="crispEdges"/>
<line x1="374.5" y1="55.5" x2="374.5" y2="62.8" stroke="#000" stroke-width="1"/>
<rect x="373.5" y="58.5" width="2" height="4" fill="#fff" stroke="#000" stroke-width="1" shape-rendering="crispEdges"/>
<line x1="378.5" y1="54.1" x2="378.5" y2="70.7" stroke="#000" stroke-width="1"/>
<rect x="377.0" y="56" width="3" height="2" fill="#000"/>
<rect x="381.0" y="55" width="3" height="4" fill="#000"/>
<rect x="384.5" y="57.5" width="2" height="4" fill="#fff" stroke="#000" stroke-width="1" shape-rendering="crispEdges"/>
<rect x="388.0" y="58" width="3" height="3" fill="#000"/>
<rect x="392.0" y="58" width="3" height="4" fill="#000"/>
<line x1="396.5" y1="55.5" x2="396.5" y2="64.6" stroke="#000" stroke-width="1"/>
<rect x="395.0" y="63" width="3" height="2" fill="#000"/>
<rect x="399.5" y="53.5" width="2" height="7" fill="#fff" stroke="#000" stroke-width="1" shape-rendering="crispEdges"/>
<line x1="404.5" y1="50.3" x2="404.5" y2="56.7" stroke="#000" stroke-width="1"/>
<rect x="403.0" y="53" width="3" height="2" fill="#000"/>
<rect x="406.0" y="54" width="3" height="3" fill="#000"/>
<rect x="410.0" y="52" width="3" height="2" fill="#000"/>
<line x1="415.5" y1="51.5" x2="415.5" y2="58.5" stroke="#000" stroke-width="1"/>
<rect x="414.0" y="51" width="3" height="4" fill="#000"/>
<rect x="417.0" y="57" width="3" height="2" fill="#000"/>
<line x1="422.5" y1="50.3" x2="422.5" y2="53.2" stroke="#000" stroke-width="1"/>
<rect x="421.0" y="52" width="3" height="2" fill="#000"/>
<rect x="425.0" y="53" width="3" height="2" fill="#000"/>
<rect x="428.0" y="51" width="3" height="2" fill="#000"/>
<rect x="432.0" y="47" width="3" height="2" fill="#000"/>
<line x1="437.5" y1="47.1" x2="437.5" y2="56.7" stroke="#000" stroke-width="1"/>
<rect x="436.0" y="47" width="3" height="4" fill="#000"/>
<line x1="440.5" y1="39.3" x2="440.5" y2="49.7" stroke="#000" stroke-width="1"/>
<rect x="439.5" y="42.5" width="2" height="7" fill="#fff" stroke="#000" stroke-width="1" shape-rendering="crispEdges"/>
<line x1="444.5" y1="40.5" x2="444.5" y2="45.7" stroke="#000" stroke-width="1"/>
<rect x="443.0" y="40" width="3" height="2" fill="#000"/>
<rect x="447.0" y="44" width="3" height="2" fill="#000"/>
<line x1="451.5" y1="42.8" x2="451.5" y2="54.4" stroke="#000" stroke-width="1"/>
<rect x="450.0" y="45" width="3" height="9" fill="#000"/>
<rect x="454.0" y="50" width="3" height="9" fill="#000"/>
<rect x="458.5" y="55.5" width="2" height="4" fill="#fff" stroke="#000" stroke-width="1" shape-rendering="crispEdges"/>
<rect x="461.5" y="49.5" width="2" height="7" fill="#fff" stroke="#000" stroke-width="1" shape-rendering="crispEdges"/>
<line x1="466.5" y1="47.1" x2="466.5" y2="54.1" stroke="#000" stroke-width="1"/>
<rect x="465.0" y="47" width="3" height="3" fill="#000"/>
<rect x="469.0" y="47" width="3" height="6" fill="#000"/>
<line x1="473.5" y1="46.2" x2="473.5" y2="55.5" stroke="#000" stroke-width="1"/>
<rect x="472.0" y="49" width="3" height="6" fill="#000"/>
<line x1="477.5" y1="50.6" x2="477.5" y2="62.8" stroke="#000" stroke-width="1"/>
<rect x="476.0" y="55" width="3" height="4" fill="#000"/>
<line x1="481.5" y1="50.6" x2="481.5" y2="61.1" stroke="#000" stroke-width="1"/>
<rect x="480.0" y="59" width="3" height="2" fill="#000"/>
<line x1="484.5" y1="55.8" x2="484.5" y2="61.4" stroke="#000" stroke-width="1"/>
<rect x="483.0" y="60" width="3" height="2" fill="#000"/>
<rect x="487.0" y="57" width="3" height="2" fill="#000"/>
<rect x="490.0" y="56" width="3" height="2" fill="#000"/>
<line x1="495.5" y1="45.4" x2="495.5" y2="55.8" stroke="#000" stroke-width="1"/>
<rect x="494.5" y="52.5" width="2" height="3" fill="#fff" stroke="#000" stroke-width="1" shape-rendering="crispEdges"/>
<line x1="499.5" y1="48.9" x2="499.5" y2="56.7" stroke="#000" stroke-width="1"/>
<rect x="498.0" y="49" width="3" height="3" fill="#000"/>
<rect x="501.0" y="50" width="3" height="4" fill="#000"/>
<line x1="506.5" y1="53.2" x2="506.5" y2="61.4" stroke="#000" stroke-width="1"/>
<rect x="505.0" y="56" width="3" height="2" fill="#000"/>
<rect x="509.0" y="54" width="3" height="5" fill="#000"/>
<line x1="513.5" y1="56.2" x2="513.5" y2="63.7" stroke="#000" stroke-width="1"/>
<rect x="512.5" y="56.5" width="2" height="5" fill="#fff" stroke="#000" stroke-width="1" shape-rendering="crispEdges"/>
<rect x="516.5" y="46.5" width="2" height="7" fill="#fff" stroke="#000" stroke-width="1" shape-rendering="crispEdges"/>
<line x1="521.5" y1="40.1" x2="521.5" y2="51.5" stroke="#000" stroke-width="1"/>
<rect x="520.5" y="40.5" width="2" height="6" fill="#fff" stroke="#000" stroke-width="1" shape-rendering="crispEdges"/>
<line x1="524.5" y1="40.5" x2="524.5" y2="51.5" stroke="#000" stroke-width="1"/>
<rect x="523.5" y="40.5" width="2" height="4" fill="#fff" stroke="#000" stroke-width="1" shape-rendering="crispEdges"/>
<rect x="527.5" y="42.5" width="2" height="2" fill="#fff" stroke="#000" stroke-width="1" shape-rendering="crispEdges"/>
<rect x="531.0" y="44" width="3" height="13" fill="#000"/>
<rect x="534.0" y="51" width="3" height="3" fill="#000"/>
<rect x="538.5" y="49.5" width="2" height="7" fill="#fff" stroke="#000" stroke-width="1" shape-rendering="crispEdges"/>
<rect x="542.0" y="53" width="3" height="4" fill="#000"/>
<rect x="545.5" y="47.5" width="2" height="9" fill="#fff" stroke="#000" stroke-width="1" shape-rendering="crispEdges"/>
<rect x="549.0" y="46" width="3" height="2" fill="#000"/>
<rect x="553.5" y="42.5" width="2" height="3" fill="#fff" stroke="#000" stroke-width="1" shape-rendering="crispEdges"/>
<rect x="556.0" y="41" width="3" height="2" fill="#000"/>
<line x1="561.5" y1="34.9" x2="561.5" y2="43.3" stroke="#000" stroke-width="1"/>
<rect x="560.5" y="38.5" width="2" height="4" fill="#fff" stroke="#000" stroke-width="1" shape-rendering="crispEdges"/>
<rect x="564.0" y="41" width="3" height="2" fill="#000"/>
<line x1="568.5" y1="39.8" x2="568.5" y2="42.8" stroke="#000" stroke-width="1"/>
<rect x="567.0" y="42" width="3" height="2" fill="#000"/>
<line x1="572.5" y1="39.8" x2="572.5" y2="44.5" stroke="#000" stroke-width="1"/>
<rect x="571.0" y="41" width="3" height="2" fill="#000"/>
<line x1="576.5" y1="38.7" x2="576.5" y2="43.3" stroke="#000" stroke-width="1"/>
<rect x="575.5" y="41.5" width="2" height="2" fill="#fff" stroke="#000" stroke-width="1" shape-rendering="crispEdges"/>
<rect x="578.0" y="44" width="3" height="5" fill="#000"/>
<line x1="583.5" y1="39.3" x2="583.5" y2="51.5" stroke="#000" stroke-width="1"/>
<rect x="582.5" y="39.5" width="2" height="10" fill="#fff" stroke="#000" stroke-width="1" shape-rendering="crispEdges"/>
<rect x="586.5" y="38.5" width="2" height="4" fill="#fff" stroke="#000" stroke-width="1" shape-rendering="crispEdges"/>
<rect x="589.5" y="36.5" width="2" height="2" fill="#fff" stroke="#000" stroke-width="1" shape-rendering="crispEdges"/>
<rect x="593.0" y="33" width="3" height="2" fill="#000"/>
<line x1="598.5" y1="32.3" x2="598.5" y2="41.9" stroke="#000" stroke-width="1"/>
<rect x="597.0" y="36" width="3" height="3" fill="#000"/>
<rect x="600.5" y="34.5" width="2" height="2" fill="#fff" stroke="#000" stroke-width="1" shape-rendering="crispEdges"/>
<rect x="604.0" y="33" width="3" height="2" fill="#000"/>
<rect x="608.0" y="32" width="3" height="11" fill="#000"/>
<rect x="611.0" y="41" width="3" height="3" fill="#000"/>
<rect x="615.0" y="42" width="3" height="2" fill="#000"/>
<rect x="619.0" y="42" width="3" height="4" fill="#000"/>
<rect x="622.0" y="43" width="3" height="3" fill="#000"/>
<line x1="627.5" y1="50.3" x2="627.5" y2="51.7" stroke="#000" stroke-width="1"/>
<rect x="626.0" y="49" width="3" height="2" fill="#000"/>
<rect x="630.5" y="46.5" width="2" height="2" fill="#fff" stroke="#000" stroke-width="1" shape-rendering="crispEdges"/>
<line x1="634.5" y1="46.2" x2="634.5" y2="48.9" stroke="#000" stroke-width="1"/>
<rect x="633.0" y="45" width="3" height="2" fill="#000"/>
<rect x="637.0" y="43" width="3" height="2" fill="#000"/>
<rect x="641.0" y="42" width="3" height="6" fill="#000"/>
<rect x="644.0" y="44" width="3" height="2" fill="#000"/>
<line x1="649.5" y1="44.5" x2="649.5" y2="45.7" stroke="#000" stroke-width="1"/>
<rect x="648.0" y="43" width="3" height="2" fill="#000"/>
<rect x="652.5" y="32.5" width="2" height="13" fill="#fff" stroke="#000" stroke-width="1" shape-rendering="crispEdges"/>
<rect x="655.5" y="28.5" width="2" height="5" fill="#fff" stroke="#000" stroke-width="1" shape-rendering="crispEdges"/>
<line x1="660.5" y1="27.6" x2="660.5" y2="38.7" stroke="#000" stroke-width="1"/>
<rect x="659.5" y="28.5" width="2" height="6" fill="#fff" stroke="#000" stroke-width="1" shape-rendering="crispEdges"/>
<rect x="663.0" y="26" width="3" height="8" fill="#000"/>
<rect x="666.5" y="31.5" width="2" height="4" fill="#fff" stroke="#000" stroke-width="1" shape-rendering="crispEdges"/>
<line x1="671.5" y1="34.0" x2="671.5" y2="43.3" stroke="#000" stroke-width="1"/>
<rect x="670.0" y="34" width="3" height="8" fill="#000"/>
<rect x="674.5" y="41.5" width="2" height="2" fill="#fff" stroke="#000" stroke-width="1" shape-rendering="crispEdges"/>
<rect x="677.0" y="41" width="3" height="2" fill="#000"/>
<line x1="682.5" y1="27.6" x2="682.5" y2="37.5" stroke="#000" stroke-width="1"/>
<rect x="681.5" y="30.5" width="2" height="7" fill="#fff" stroke="#000" stroke-width="1" shape-rendering="crispEdges"/>
<rect x="685.0" y="28" width="3" height="2" fill="#000"/>
<rect x="688.0" y="28" width="3" height="3" fill="#000"/>
<line x1="693.5" y1="20.1" x2="693.5" y2="32.3" stroke="#000" stroke-width="1"/>
<rect x="692.5" y="28.5" width="2" height="3" fill="#fff" stroke="#000" stroke-width="1" shape-rendering="crispEdges"/>
<rect x="696.0" y="32" width="3" height="3" fill="#000"/>
<line x1="700.5" y1="23.6" x2="700.5" y2="40.5" stroke="#000" stroke-width="1"/>
<rect x="699.5" y="25.5" width="2" height="14" fill="#fff" stroke="#000" stroke-width="1" shape-rendering="crispEdges"/>
<line x1="704.5" y1="22.7" x2="704.5" y2="40.5" stroke="#000" stroke-width="1"/>
<rect x="703.5" y="25.5" width="2" height="14" fill="#fff" stroke="#000" stroke-width="1" shape-rendering="crispEdges"/>
<line x1="707" y1="25.7" x2="713" y2="25.7" stroke="#000" stroke-width="1"/>
<path d="M66,183 L69,183 L69,189 L72,189 L72,190 L71,190 L71,191 L71,191 L71,192 L70,192 L70,193 L70,193 L70,194 L69,194 L69,195 L69,195 L69,196 L68,196 L68,197 L68,197 L68,198 L67,198 L67,197 L67,197 L67,196 L66,196 L66,195 L66,195 L66,194 L65,194 L65,193 L65,193 L65,192 L64,192 L64,191 L64,191 L64,190 L63,190 L63,189 L66,189Z" fill="#f00" shape-rendering="crispEdges"/>
<path d="M110,179 L113,179 L113,185 L116,185 L116,186 L115,186 L115,187 L115,187 L115,188 L114,188 L114,189 L114,189 L114,190 L113,190 L113,191 L113,191 L113,192 L112,192 L112,193 L112,193 L112,194 L111,194 L111,193 L111,193 L111,192 L110,192 L110,191 L110,191 L110,190 L109,190 L109,189 L109,189 L109,188 L108,188 L108,187 L108,187 L108,186 L107,186 L107,185 L110,185Z" fill="#f00" shape-rendering="crispEdges"/>
<path d="M117,182 L120,182 L120,188 L123,188 L123,189 L122,189 L122,190 L122,190 L122,191 L121,191 L121,192 L121,192 L121,193 L120,193 L120,194 L120,194 L120,195 L119,195 L119,196 L119,196 L119,197 L118,197 L118,196 L118,196 L118,195 L117,195 L117,194 L117,194 L117,193 L116,193 L116,192 L116,192 L116,191 L115,191 L115,190 L115,190 L115,189 L114,189 L114,188 L117,188Z" fill="#f00" shape-rendering="crispEdges"/>
<path d="M249,126 L252,126 L252,132 L255,132 L255,133 L254,133 L254,134 L254,134 L254,135 L253,135 L253,136 L253,136 L253,137 L252,137 L252,138 L252,138 L252,139 L251,139 L251,140 L251,140 L251,141 L250,141 L250,140 L250,140 L250,139 L249,139 L249,138 L249,138 L249,137 L248,137 L248,136 L248,136 L248,135 L247,135 L247,134 L247,134 L247,133 L246,133 L246,132 L249,132Z" fill="#f00" shape-rendering="crispEdges"/>
<path d="M260,125 L263,125 L263,131 L266,131 L266,132 L265,132 L265,133 L265,133 L265,134 L264,134 L264,135 L264,135 L264,136 L263,136 L263,137 L263,137 L263,138 L262,138 L262,139 L262,139 L262,140 L261,140 L261,139 L261,139 L261,138 L260,138 L260,137 L260,137 L260,136 L259,136 L259,135 L259,135 L259,134 L258,134 L258,133 L258,133 L258,132 L257,132 L257,131 L260,131Z" fill="#f00" shape-rendering="crispEdges"/>
<path d="M392,36 L395,36 L395,42 L398,42 L398,43 L397,43 L397,44 L397,44 L397,45 L396,45 L396,46 L396,46 L396,47 L395,47 L395,48 L395,48 L395,49 L394,49 L394,50 L394,50 L394,51 L393,51 L393,50 L393,50 L393,49 L392,49 L392,48 L392,48 L392,47 L391,47 L391,46 L391,46 L391,45 L390,45 L390,44 L390,44 L390,43 L389,43 L389,42 L392,42Z" fill="#f00" shape-rendering="crispEdges"/>
<path d="M417,35 L420,35 L420,41 L423,41 L423,42 L422,42 L422,43 L422,43 L422,44 L421,44 L421,45 L421,45 L421,46 L420,46 L420,47 L420,47 L420,48 L419,48 L419,49 L419,49 L419,50 L418,50 L418,49 L418,49 L418,48 L417,48 L417,47 L417,47 L417,46 L416,46 L416,45 L416,45 L416,44 L415,44 L415,43 L415,43 L415,42 L414,42 L414,41 L417,41Z" fill="#f00" shape-rendering="crispEdges"/>
<path d="M425,29 L428,29 L428,35 L431,35 L431,36 L430,36 L430,37 L430,37 L430,38 L429,38 L429,39 L429,39 L429,40 L428,40 L428,41 L428,41 L428,42 L427,42 L427,43 L427,43 L427,44 L426,44 L426,43 L426,43 L426,42 L425,42 L425,41 L425,41 L425,40 L424,40 L424,39 L424,39 L424,38 L423,38 L423,37 L423,37 L423,36 L422,36 L422,35 L425,35Z" fill="#f00" shape-rendering="crispEdges"/>
<path d="M450,20 L453,20 L453,26 L456,26 L456,27 L455,27 L455,28 L455,28 L455,29 L454,29 L454,30 L454,30 L454,31 L453,31 L453,32 L453,32 L453,33 L452,33 L452,34 L452,34 L452,35 L451,35 L451,34 L451,34 L451,33 L450,33 L450,32 L450,32 L450,31 L449,31 L449,30 L449,30 L449,29 L448,29 L448,28 L448,28 L448,27 L447,27 L447,26 L450,26Z" fill="#f00" shape-rendering="crispEdges"/>
<path d="M531,21 L534,21 L534,27 L537,27 L537,28 L536,28 L536,29 L536,29 L536,30 L535,30 L535,31 L535,31 L535,32 L534,32 L534,33 L534,33 L534,34 L533,34 L533,35 L533,35 L533,36 L532,36 L532,35 L532,35 L532,34 L531,34 L531,33 L531,33 L531,32 L530,32 L530,31 L530,31 L530,30 L529,30 L529,29 L529,29 L529,28 L528,28 L528,27 L531,27Z" fill="#f00" shape-rendering="crispEdges"/>
<path d="M564,15 L567,15 L567,21 L570,21 L570,22 L569,22 L569,23 L569,23 L569,24 L568,24 L568,25 L568,25 L568,26 L567,26 L567,27 L567,27 L567,28 L566,28 L566,29 L566,29 L566,30 L565,30 L565,29 L565,29 L565,28 L564,28 L564,27 L564,27 L564,26 L563,26 L563,25 L563,25 L563,24 L562,24 L562,23 L562,23 L562,22 L561,22 L561,21 L564,21Z" fill="#f00" shape-rendering="crispEdges"/>
<path d="M571,16 L574,16 L574,22 L577,22 L577,23 L576,23 L576,24 L576,24 L576,25 L575,25 L575,26 L575,26 L575,27 L574,27 L574,28 L574,28 L574,29 L573,29 L573,30 L573,30 L573,31 L572,31 L572,30 L572,30 L572,29 L571,29 L571,28 L571,28 L571,27 L570,27 L570,26 L570,26 L570,25 L569,25 L569,24 L569,24 L569,23 L568,23 L568,22 L571,22Z" fill="#f00" shape-rendering="crispEdges"/>
<path d="M578,22 L581,22 L581,28 L584,28 L584,29 L583,29 L583,30 L583,30 L583,31 L582,31 L582,32 L582,32 L582,33 L581,33 L581,34 L581,34 L581,35 L580,35 L580,36 L580,36 L580,37 L579,37 L579,36 L579,36 L579,35 L578,35 L578,34 L578,34 L578,33 L577,33 L577,32 L577,32 L577,31 L576,31 L576,30 L576,30 L576,29 L575,29 L575,28 L578,28Z" fill="#f00" shape-rendering="crispEdges"/>
<path d="M597,9 L600,9 L600,15 L603,15 L603,16 L602,16 L602,17 L602,17 L602,18 L601,18 L601,19 L601,19 L601,20 L600,20 L600,21 L600,21 L600,22 L599,22 L599,23 L599,23 L599,24 L598,24 L598,23 L598,23 L598,22 L597,22 L597,21 L597,21 L597,20 L596,20 L596,19 L596,19 L596,18 L595,18 L595,17 L595,17 L595,16 L594,16 L594,15 L597,15Z" fill="#f00" shape-rendering="crispEdges"/>
<path d="M608,10 L611,10 L611,16 L614,16 L614,17 L613,17 L613,18 L613,18 L613,19 L612,19 L612,20 L612,20 L612,21 L611,21 L611,22 L611,22 L611,23 L610,23 L610,24 L610,24 L610,25 L609,25 L609,24 L609,24 L609,23 L608,23 L608,22 L608,22 L608,21 L607,21 L607,20 L607,20 L607,19 L606,19 L606,18 L606,18 L606,17 L605,17 L605,16 L608,16Z" fill="#f00" shape-rendering="crispEdges"/>
<path d="M670,11 L673,11 L673,17 L676,17 L676,18 L675,18 L675,19 L675,19 L675,20 L674,20 L674,21 L674,21 L674,22 L673,22 L673,23 L673,23 L673,24 L672,24 L672,25 L672,25 L672,26 L671,26 L671,25 L671,25 L671,24 L670,24 L670,23 L670,23 L670,22 L669,22 L669,21 L669,21 L669,20 L668,20 L668,19 L668,19 L668,18 L667,18 L667,17 L670,17Z" fill="#f00" shape-rendering="crispEdges"/>
<path d="M696,10 L699,10 L699,16 L702,16 L702,17 L701,17 L701,18 L701,18 L701,19 L700,19 L700,20 L700,20 L700,21 L699,21 L699,22 L699,22 L699,23 L698,23 L698,24 L698,24 L698,25 L697,25 L697,24 L697,24 L697,23 L696,23 L696,22 L696,22 L696,21 L695,21 L695,20 L695,20 L695,19 L694,19 L694,18 L694,18 L694,17 L693,17 L693,16 L696,16Z" fill="#f00" shape-rendering="crispEdges"/>
<path d="M172,240 L175,240 L175,234 L178,234 L178,233 L177,233 L177,232 L177,232 L177,231 L176,231 L176,230 L176,230 L176,229 L175,229 L175,228 L175,228 L175,227 L174,227 L174,226 L174,226 L174,225 L173,225 L173,226 L173,226 L173,227 L172,227 L172,228 L172,228 L172,229 L171,229 L171,230 L171,230 L171,231 L170,231 L170,232 L170,232 L170,233 L169,233 L169,234 L172,234Z" fill="#009600" shape-rendering="crispEdges"/>
<path d="M308,178 L311,178 L311,172 L314,172 L314,171 L313,171 L313,170 L313,170 L313,169 L312,169 L312,168 L312,168 L312,167 L311,167 L311,166 L311,166 L311,165 L310,165 L310,164 L310,164 L310,163 L309,163 L309,164 L309,164 L309,165 L308,165 L308,166 L308,166 L308,167 L307,167 L307,168 L307,168 L307,169 L306,169 L306,170 L306,170 L306,171 L305,171 L305,172 L308,172Z" fill="#009600" shape-rendering="crispEdges"/>
<path d="M326,112 L329,112 L329,106 L332,106 L332,105 L331,105 L331,104 L331,104 L331,103 L330,103 L330,102 L330,102 L330,101 L329,101 L329,100 L329,100 L329,99 L328,99 L328,98 L328,98 L328,97 L327,97 L327,98 L327,98 L327,99 L326,99 L326,100 L326,100 L326,101 L325,101 L325,102 L325,102 L325,103 L324,103 L324,104 L324,104 L324,105 L323,105 L323,106 L326,106Z" fill="#009600" shape-rendering="crispEdges"/>
<path d="M490,80 L493,80 L493,74 L496,74 L496,73 L495,73 L495,72 L495,72 L495,71 L494,71 L494,70 L494,70 L494,69 L493,69 L493,68 L493,68 L493,67 L492,67 L492,66 L492,66 L492,65 L491,65 L491,66 L491,66 L491,67 L490,67 L490,68 L490,68 L490,69 L489,69 L489,70 L489,70 L489,71 L488,71 L488,72 L488,72 L488,73 L487,73 L487,74 L490,74Z" fill="#009600" shape-rendering="crispEdges"/>
<path d="M512,86 L515,86 L515,80 L518,80 L518,79 L517,79 L517,78 L517,78 L517,77 L516,77 L516,76 L516,76 L516,75 L515,75 L515,74 L515,74 L515,73 L514,73 L514,72 L514,72 L514,71 L513,71 L513,72 L513,72 L513,73 L512,73 L512,74 L512,74 L512,75 L511,75 L511,76 L511,76 L511,77 L510,77 L510,78 L510,78 L510,79 L509,79 L509,80 L512,80Z" fill="#009600" shape-rendering="crispEdges"/>
<path d="M633,72 L636,72 L636,66 L639,66 L639,65 L638,65 L638,64 L638,64 L638,63 L637,63 L637,62 L637,62 L637,61 L636,61 L636,60 L636,60 L636,59 L635,59 L635,58 L635,58 L635,57 L634,57 L634,58 L634,58 L634,59 L633,59 L633,60 L633,60 L633,61 L632,61 L632,62 L632,62 L632,63 L631,63 L631,64 L631,64 L631,65 L630,65 L630,66 L633,66Z" fill="#009600" shape-rendering="crispEdges"/>
<path d="M644,68 L647,68 L647,62 L650,62 L650,61 L649,61 L649,60 L649,60 L649,59 L648,59 L648,58 L648,58 L648,57 L647,57 L647,56 L647,56 L647,55 L646,55 L646,54 L646,54 L646,53 L645,53 L645,54 L645,54 L645,55 L644,55 L644,56 L644,56 L644,57 L643,57 L643,58 L643,58 L643,59 L642,59 L642,60 L642,60 L642,61 L641,61 L641,62 L644,62Z" fill="#009600" shape-rendering="crispEdges"/>
<path d="M3.5,5.5 H719.5 V298.5 H3.5 Z" fill="none" stroke="#000" stroke-width="1" shape-rendering="crispEdges"/>
<line x1="719.5" y1="48.5" x2="724" y2="48.5" stroke="#000" shape-rendering="crispEdges"/>
<text x="776" y="51.8"  text-anchor="end">40</text>
<line x1="719.5" y1="102.5" x2="724" y2="102.5" stroke="#000" shape-rendering="crispEdges"/>
<text x="776" y="105.8"  text-anchor="end">35</text>
<line x1="719.5" y1="156.5" x2="724" y2="156.5" stroke="#000" shape-rendering="crispEdges"/>
<text x="776" y="159.8"  text-anchor="end">30</text>
<line x1="719.5" y1="210.5" x2="724" y2="210.5" stroke="#000" shape-rendering="crispEdges"/>
<text x="776" y="213.8"  text-anchor="end">25</text>
<line x1="719.5" y1="264.5" x2="724" y2="264.5" stroke="#000" shape-rendering="crispEdges"/>
<text x="776" y="267.8"  text-anchor="end">20</text>
<text x="9.5" y="309.7" >Nov</text>
<line x1="100.5" y1="298.5" x2="100.5" y2="305.5" stroke="#000" shape-rendering="crispEdges"/>
<text x="104.3" y="309.7" >2025</text>
<line x1="173" y1="298.5" x2="173" y2="305.5" stroke="#000" shape-rendering="crispEdges"/>
<text x="176.8" y="309.7" >Feb</text>
<line x1="243.7" y1="298.5" x2="243.7" y2="305.5" stroke="#000" shape-rendering="crispEdges"/>
<text x="247.5" y="309.7" >Mar</text>
<line x1="320" y1="298.5" x2="320" y2="305.5" stroke="#000" shape-rendering="crispEdges"/>
<text x="323.8" y="309.7" >Apr</text>
<line x1="396" y1="298.5" x2="396" y2="305.5" stroke="#000" shape-rendering="crispEdges"/>
<text x="399.8" y="309.7" >May</text>
<line x1="473.3" y1="298.5" x2="473.3" y2="305.5" stroke="#000" shape-rendering="crispEdges"/>
<text x="477.1" y="309.7" >Jun</text>
<line x1="546.7" y1="298.5" x2="546.7" y2="305.5" stroke="#000" shape-rendering="crispEdges"/>
<text x="550.5" y="309.7" >Jul</text>
<line x1="627.3" y1="298.5" x2="627.3" y2="305.5" stroke="#000" shape-rendering="crispEdges"/>
<text x="631.1" y="309.7" >Aug</text>
<line x1="708.7" y1="298.5" x2="708.7" y2="305.5" stroke="#000" shape-rendering="crispEdges"/>
<text x="712.5" y="309.7" >Sep</text>
<rect x="10" y="0" width="422" height="14" fill="#fff"/>
<rect x="10" y="14" width="359" height="14" fill="#fff"/>
<text x="10.7" y="10.6"  fill="#000" textLength="194.9" lengthAdjust="spacing">OPOF - Daily 2025-09-03 Open 42.1</text>
<text x="213.8" y="10.6"  fill="#000" textLength="51.0" lengthAdjust="spacing">High 42.1</text>
<text x="271.7" y="10.6"  fill="#000" textLength="49.4" lengthAdjust="spacing">Low 42.1</text>
<text x="328.6" y="10.6"  fill="#000" textLength="98.4" lengthAdjust="spacing">Close 42.1 (0.0%)</text>
<text x="10.7" y="24.6"  fill="#000" textLength="26.8" lengthAdjust="spacing">Vol 0</text>
<text x="40.9" y="24.6"  fill="#f0f" textLength="31.9" lengthAdjust="spacing">Res-1</text>
<text x="77.6" y="24.6"  fill="#000" textLength="43.1" lengthAdjust="spacing">= 41.92,</text>
<text x="124.1" y="24.6"  fill="#f00" textLength="32.7" lengthAdjust="spacing">Res-2</text>
<text x="161.6" y="24.6"  fill="#000" textLength="42.3" lengthAdjust="spacing">= 41.92,</text>
<text x="208.6" y="24.6"  fill="#00f" textLength="31.4" lengthAdjust="spacing">Sup-1</text>
<text x="244.6" y="24.6"  fill="#000" textLength="43.1" lengthAdjust="spacing">= 40.89,</text>
<text x="291.7" y="24.6"  fill="#009600" textLength="31.4" lengthAdjust="spacing">Sup-2</text>
<text x="327.7" y="24.6"  fill="#000" textLength="40.0" lengthAdjust="spacing">= 39.68</text>
<line x1="4" y1="325.5" x2="717" y2="325.5" stroke="#000" stroke-width="1" stroke-dasharray="1 7" shape-rendering="crispEdges"/>
<line x1="4" y1="345.5" x2="717" y2="345.5" stroke="#000" stroke-width="1" stroke-dasharray="1 7" shape-rendering="crispEdges"/>
<line x1="4" y1="365.5" x2="717" y2="365.5" stroke="#000" stroke-width="1" stroke-dasharray="1 7" shape-rendering="crispEdges"/>
<line x1="4" y1="385.5" x2="717" y2="385.5" stroke="#000" stroke-width="1" stroke-dasharray="1 7" shape-rendering="crispEdges"/>
<polyline points="5.1,335.4 53.8,335.4 55.1,334.4 126.9,334.4 128.2,335.4 153.8,335.4 159.0,338.2 202.8,338.2 209.4,327.4 426.9,327.4 433.1,336.2 550.5,336.2 554.9,340.3 655.6,340.3 660.8,336.2 710.8,336.2" fill="none" stroke="#000" stroke-width="1" shape-rendering="crispEdges" />
<polyline points="5.1,398.5 26.9,398.5 33.3,395.9 48.7,395.4 53.8,386.9 59.0,376.7 63.6,372.3 117.9,372.3 121.8,376.7 125.6,384.4 129.5,389.5 133.3,394.1 142.3,394.6 147.4,397.9 153.8,399.4 204.1,399.7 204.6,398.5 372.0,398.5 379.7,391.5 383.6,390.3 427.4,390.3 428.7,391.5 478.7,391.5 483.8,396.4 619.7,396.4 627.4,401.0 710.8,401.0" fill="none" stroke="#000" stroke-width="1" shape-rendering="crispEdges" />
<polyline points="5.1,358.7 11.5,348.5 19.2,342.8 24.4,342.6 30.8,347.2 38.5,351.0 44.9,350.5 52.6,347.2 62.8,345.9 70.5,354.1 79.5,356.9 88.5,359.2 94.9,353.6 101.3,350.3 106.4,351.0 112.8,357.4 120.5,366.4 126.9,376.7 133.3,384.4 141.0,388.2 148.7,394.6 156.4,397.9 164.1,395.9 171.8,390.8 179.5,377.9 185.9,365.1 190.0,357.4 195.1,353.6 200.3,351.0 205.4,342.1 210.5,335.6 214.4,334.4 219.5,336.9 228.5,347.2 238.7,355.6 250.3,361.3 257.9,362.1 263.1,369.0 268.2,377.9 275.9,384.4 286.2,386.2 295.1,389.5 301.5,389.5 309.2,384.9 316.9,382.6 323.3,381.0 327.2,369.0 331.0,358.7 337.4,351.0 342.6,349.0 347.7,349.7 356.7,354.9 366.9,360.0 372.0,361.3 375.9,356.2 382.3,354.1 387.7,353.6 396.7,360.0 405.6,360.8 414.6,362.1 421.0,363.8 427.4,362.6 433.8,356.2 439.0,354.9 444.1,348.5 448.7,345.9 453.1,357.4 459.5,370.3 468.5,373.6 476.2,381.3 485.1,390.3 490.3,390.3 496.7,381.8 503.1,374.6 508.2,374.6 513.3,378.7 518.5,367.7 523.6,357.4 528.7,351.0 533.8,360.0 540.3,365.1 545.4,371.0 551.8,371.0 556.9,365.1 562.1,361.3 572.3,361.3 577.4,363.3 580.0,365.9 583.8,366.4 589.0,362.6 594.1,357.4 599.2,357.4 605.6,354.1 610.8,362.6 617.2,375.4 623.6,386.9 628.7,392.1 633.8,393.8 640.3,390.8 645.4,388.2 650.5,381.8 655.6,365.1 660.8,354.9 667.2,351.5 672.3,358.7 677.4,365.9 682.6,367.7 687.7,365.1 692.8,361.3 697.9,365.1 703.1,362.1 710.8,358.2" fill="none" stroke="#00f" stroke-width="1" shape-rendering="crispEdges" />
<polyline points="5.1,358.7 7.7,348.5 11.5,338.2 16.7,335.4 21.8,337.7 28.2,345.9 34.6,353.6 38.5,355.6 44.9,351.0 51.3,344.6 55.1,342.6 59.0,345.1 62.8,345.9 66.7,353.6 71.8,360.0 79.5,362.1 85.9,360.8 91.0,356.2 96.2,347.9 100.0,344.6 105.1,348.5 110.3,357.4 116.7,369.0 123.1,381.8 128.2,390.8 134.6,397.7 141.0,394.6 147.4,399.7 153.8,402.3 159.0,399.2 166.7,392.1 174.4,379.2 180.8,358.7 185.9,345.9 189.7,342.1 195.1,342.1 199.7,345.9 204.1,335.6 206.7,329.2 209.2,327.4 214.4,329.2 220.8,340.8 228.5,352.3 236.2,360.0 245.1,363.8 250.3,366.4 255.4,362.1 257.9,362.1 261.8,374.1 265.6,385.6 268.2,392.1 272.1,394.1 278.5,390.8 283.6,388.2 288.7,389.0 295.1,391.5 301.5,389.5 306.7,383.1 311.8,379.2 323.3,379.2 325.9,361.3 329.7,340.8 334.4,333.6 340.0,339.5 346.4,348.5 354.1,356.2 364.4,363.3 370.8,364.4 374.6,357.4 379.7,349.7 383.6,349.0 385.1,350.5 391.5,357.4 396.7,365.9 404.4,362.1 414.6,361.3 418.5,365.9 426.2,363.3 431.3,353.6 435.1,349.7 437.7,349.0 444.1,340.8 448.5,340.8 451.8,358.7 455.6,376.7 459.5,389.0 464.6,381.3 469.7,377.9 474.9,386.9 480.0,395.9 484.6,399.2 489.0,393.3 494.1,377.9 499.2,366.4 502.3,363.3 505.6,366.9 509.5,377.2 513.3,381.3 517.2,367.7 521.0,348.5 524.1,337.7 527.4,337.7 531.3,353.6 535.1,367.7 539.0,374.1 543.6,381.3 550.5,374.1 555.6,362.6 559.5,356.2 562.6,354.1 568.5,358.2 572.3,362.1 576.2,363.8 580.0,370.3 583.1,370.3 587.7,363.8 594.1,350.5 599.2,353.1 605.6,352.3 609.5,366.4 614.6,386.9 619.7,395.9 624.9,401.8 628.7,404.4 632.6,399.7 637.7,391.5 642.8,387.7 647.9,381.8 651.8,367.7 655.6,343.3 660.3,332.6 663.3,335.6 668.5,345.4 673.6,363.8 678.7,378.5 683.8,372.8 689.0,362.1 692.8,359.5 697.9,365.9 703.1,360.0 708.2,355.6 710.8,355.6" fill="none" stroke="#f00" stroke-width="1" shape-rendering="crispEdges" />
<path d="M3.5,319.5 H719.5 V406.5 H3.5 Z" fill="none" stroke="#000" stroke-width="1" shape-rendering="crispEdges"/>
<line  x1="4" y1="405.5" x2="717" y2="405.5" stroke="#000" stroke-width="1" stroke-dasharray="1 7" shape-rendering="crispEdges"/>
<line x1="719.5" y1="325.5" x2="724" y2="325.5" stroke="#000" shape-rendering="crispEdges"/>
<text x="776" y="328.8"  text-anchor="end">100</text>
<line x1="719.5" y1="345.5" x2="724" y2="345.5" stroke="#000" shape-rendering="crispEdges"/>
<text x="776" y="348.8"  text-anchor="end">80</text>
<line x1="719.5" y1="365.5" x2="724" y2="365.5" stroke="#000" shape-rendering="crispEdges"/>
<text x="776" y="368.8"  text-anchor="end">60</text>
<line x1="719.5" y1="385.5" x2="724" y2="385.5" stroke="#000" shape-rendering="crispEdges"/>
<text x="776" y="388.8"  text-anchor="end">40</text>
<line x1="719.5" y1="405.5" x2="724" y2="405.5" stroke="#000" shape-rendering="crispEdges"/>
<text x="776" y="408.8"  text-anchor="end">20</text>
<rect x="10" y="314" width="357" height="14" fill="#fff"/>
<text x="10.8" y="325"  fill="#000" textLength="39.4" lengthAdjust="spacing">OPOF -</text>
<text x="53.3" y="325"  fill="#f00" textLength="22.6" lengthAdjust="spacing">Line</text>
<text x="80" y="325"  fill="#000" textLength="202.5" lengthAdjust="spacing">= 69.87, Top = 89.18, Bottom = 23.91,</text>
<text x="287.4" y="325"  fill="#00f" textLength="33.9" lengthAdjust="spacing">Signal</text>
<text x="325.9" y="325"  fill="#000" textLength="39.7" lengthAdjust="spacing">= 66.47</text>
<line x1="4" y1="423.5" x2="717" y2="423.5" stroke="#000" stroke-width="1" stroke-dasharray="1 7" shape-rendering="crispEdges"/>
<line x1="4" y1="478.5" x2="717" y2="478.5" stroke="#000" stroke-width="1" stroke-dasharray="1 7" shape-rendering="crispEdges"/>
<line x1="4" y1="532.5" x2="717" y2="532.5" stroke="#000" stroke-width="1" stroke-dasharray="1 7" shape-rendering="crispEdges"/>
<line x1="4" y1="586.5" x2="717" y2="586.5" stroke="#000" stroke-width="1" stroke-dasharray="1 7" shape-rendering="crispEdges"/>
<line x1="4" y1="640.5" x2="717" y2="640.5" stroke="#000" stroke-width="1" stroke-dasharray="1 7" shape-rendering="crispEdges"/>
<line x1="4" y1="694.5" x2="717" y2="694.5" stroke="#000" stroke-width="1" stroke-dasharray="1 7" shape-rendering="crispEdges"/>
<line x1="100.5" y1="440" x2="100.5" y2="731.5" stroke="#000" stroke-width="1" stroke-dasharray="1 7" shape-rendering="crispEdges"/>
<line x1="4" y1="725.5" x2="156" y2="725.5" stroke="#009600" stroke-width="3" stroke-dasharray="6 1 3 1" shape-rendering="crispEdges"/>
<line x1="156" y1="646.5" x2="288" y2="646.5" stroke="#009600" stroke-width="3" stroke-dasharray="6 1 3 1" shape-rendering="crispEdges"/>
<line x1="288" y1="587.5" x2="479" y2="587.5" stroke="#009600" stroke-width="3" stroke-dasharray="6 1 3 1" shape-rendering="crispEdges"/>
<line x1="480" y1="490.5" x2="514" y2="490.5" stroke="#009600" stroke-width="3" stroke-dasharray="6 1 3 1" shape-rendering="crispEdges"/>
<line x1="516" y1="484.5" x2="629" y2="484.5" stroke="#009600" stroke-width="3" stroke-dasharray="6 1 3 1" shape-rendering="crispEdges"/>
<line x1="630" y1="478.5" x2="713" y2="478.5" stroke="#009600" stroke-width="3" stroke-dasharray="6 1 3 1" shape-rendering="crispEdges"/>
<line x1="4" y1="683.5" x2="10" y2="683.5" stroke="#f00" stroke-width="3" stroke-dasharray="6 1 3 1" shape-rendering="crispEdges"/>
<line x1="11" y1="670.5" x2="28" y2="670.5" stroke="#f00" stroke-width="3" stroke-dasharray="6 1 3 1" shape-rendering="crispEdges"/>
<line x1="30" y1="662.5" x2="46" y2="662.5" stroke="#f00" stroke-width="3" stroke-dasharray="6 1 3 1" shape-rendering="crispEdges"/>
<line x1="46" y1="647.5" x2="60" y2="647.5" stroke="#f00" stroke-width="3" stroke-dasharray="6 1 3 1" shape-rendering="crispEdges"/>
<line x1="66" y1="635.5" x2="97" y2="635.5" stroke="#f00" stroke-width="3" stroke-dasharray="6 1 3 1" shape-rendering="crispEdges"/>
<line x1="99" y1="629.5" x2="219" y2="629.5" stroke="#f00" stroke-width="3" stroke-dasharray="6 1 3 1" shape-rendering="crispEdges"/>
<line x1="220" y1="585.5" x2="241" y2="585.5" stroke="#f00" stroke-width="3" stroke-dasharray="6 1 3 1" shape-rendering="crispEdges"/>
<line x1="243" y1="578.5" x2="329" y2="578.5" stroke="#f00" stroke-width="3" stroke-dasharray="6 1 3 1" shape-rendering="crispEdges"/>
<line x1="328" y1="513.5" x2="337" y2="513.5" stroke="#f00" stroke-width="3" stroke-dasharray="6 1 3 1" shape-rendering="crispEdges"/>
<line x1="345" y1="505.5" x2="366" y2="505.5" stroke="#f00" stroke-width="3" stroke-dasharray="6 1 3 1" shape-rendering="crispEdges"/>
<line x1="366" y1="494.5" x2="381" y2="494.5" stroke="#f00" stroke-width="3" stroke-dasharray="6 1 3 1" shape-rendering="crispEdges"/>
<line x1="381" y1="483.5" x2="400" y2="483.5" stroke="#f00" stroke-width="3" stroke-dasharray="6 1 3 1" shape-rendering="crispEdges"/>
<line x1="402" y1="481.5" x2="442" y2="481.5" stroke="#f00" stroke-width="3" stroke-dasharray="6 1 3 1" shape-rendering="crispEdges"/>
<line x1="443" y1="469.5" x2="561" y2="469.5" stroke="#f00" stroke-width="3" stroke-dasharray="6 1 3 1" shape-rendering="crispEdges"/>
<line x1="563" y1="466.5" x2="590" y2="466.5" stroke="#f00" stroke-width="3" stroke-dasharray="6 1 3 1" shape-rendering="crispEdges"/>
<line x1="611" y1="463.5" x2="666" y2="463.5" stroke="#f00" stroke-width="3" stroke-dasharray="6 1 3 1" shape-rendering="crispEdges"/>
<line x1="663" y1="459.5" x2="700" y2="459.5" stroke="#f00" stroke-width="3" stroke-dasharray="6 1 3 1" shape-rendering="crispEdges"/>
<line x1="707" y1="461.5" x2="713" y2="461.5" stroke="#f00" stroke-width="3" stroke-dasharray="6 1 3 1" shape-rendering="crispEdges"/>
<polyline points="4.5,687.0 8.0,683.0 13.3,676.8 22.1,663.5 26.6,656.1 35.4,651.7 44.3,647.5 50.2,642.8 57.6,635.4 62.0,631.3 66.4,629.5 76.8,628.8 82.7,627.3 90.1,624.8 96.0,619.9 103.4,617.7 106.3,617.4 110.5,618.8 120.9,627.5 131.4,637.1 138.4,641.1 143.6,644.1 148.9,648.5 152.4,652.8 157.6,660.7 162.8,666.8 167.2,670.3 169.8,671.2 173.3,670.3 176.8,668.5 183.8,659.8 190.8,647.6 197.7,633.6 201.2,625.8 204.7,618.8 208.2,609.2 211.7,600.5 215.2,590.0 218.2,582.6 224.6,569.7 232.3,559.5 241.3,553.1 250.3,549.7 259.2,549.2 266.9,551.3 275.9,556.4 283.6,564.6 288.7,576.2 292.6,585.1 297.7,594.1 304.1,600.0 310.5,601.8 318.2,601.0 324.6,596.7 329.7,585.1 333.6,567.2 337.4,549.2 340.0,535.3 343.8,517.3 347.7,501.9 352.8,489.1 360.5,477.6 370.8,467.3 381.0,457.1 391.3,449.9 406.7,448.8 427.2,447.6 438.7,443.5 447.7,440.4 451.5,442.4 456.7,453.2 463.1,469.9 470.8,482.7 478.5,492.9 484.9,504.5 490.0,512.2 493.8,514.0 499.0,512.2 504.1,505.8 509.2,500.6 516.9,499.4 522.1,492.9 524.6,481.4 528.5,467.3 532.3,461.5 536.2,459.6 540.0,462.0 542.8,465.0 547.9,472.7 551.8,475.3 555.6,470.1 560.8,457.3 567.2,448.3 573.6,445.8 580.0,447.1 586.4,449.6 591.5,447.1 597.9,438.1 604.4,431.7 608.2,431.2 613.3,435.5 618.5,445.8 623.6,461.2 628.7,476.5 633.8,489.4 639.0,496.5 644.1,498.8 649.2,497.1 654.4,489.4 658.2,476.5 662.1,461.2 665.9,447.1 669.7,438.8 673.6,437.6 677.4,441.9 681.3,448.3 686.4,451.7 691.5,447.8 697.9,440.6 704.4,436.8 711.3,435.0" fill="none" stroke="#00f" stroke-width="1" shape-rendering="crispEdges" />
<rect x="3.5" y="677.5" width="2" height="5" fill="#fff" stroke="#000" stroke-width="1" shape-rendering="crispEdges"/>
<line x1="8.5" y1="668.4" x2="8.5" y2="677.1" stroke="#000" stroke-width="1"/>
<rect x="7.5" y="675.5" width="2" height="2" fill="#fff" stroke="#000" stroke-width="1" shape-rendering="crispEdges"/>
<line x1="12.5" y1="672.4" x2="12.5" y2="677.7" stroke="#000" stroke-width="1"/>
<rect x="11.0" y="671" width="3" height="2" fill="#000"/>
<line x1="15.5" y1="668.4" x2="15.5" y2="674.2" stroke="#000" stroke-width="1"/>
<rect x="14.5" y="672.5" width="2" height="2" fill="#fff" stroke="#000" stroke-width="1" shape-rendering="crispEdges"/>
<rect x="18.0" y="665" width="3" height="2" fill="#000"/>
<rect x="22.5" y="667.5" width="2" height="11" fill="#fff" stroke="#000" stroke-width="1" shape-rendering="crispEdges"/>
<line x1="26.5" y1="658.5" x2="26.5" y2="669.8" stroke="#000" stroke-width="1"/>
<rect x="25.5" y="667.5" width="2" height="2" fill="#fff" stroke="#000" stroke-width="1" shape-rendering="crispEdges"/>
<line x1="30.5" y1="663.7" x2="30.5" y2="668.4" stroke="#000" stroke-width="1"/>
<rect x="29.0" y="665" width="3" height="3" fill="#000"/>
<line x1="34.5" y1="664.6" x2="34.5" y2="673.3" stroke="#000" stroke-width="1"/>
<rect x="33.5" y="665.5" width="2" height="2" fill="#fff" stroke="#000" stroke-width="1" shape-rendering="crispEdges"/>
<line x1="37.5" y1="660.2" x2="37.5" y2="661.9" stroke="#000" stroke-width="1"/>
<rect x="36.0" y="661" width="3" height="2" fill="#000"/>
<line x1="41.5" y1="658.5" x2="41.5" y2="664.6" stroke="#000" stroke-width="1"/>
<rect x="40.5" y="658.5" width="2" height="2" fill="#fff" stroke="#000" stroke-width="1" shape-rendering="crispEdges"/>
<line x1="45.5" y1="644.5" x2="45.5" y2="660.2" stroke="#000" stroke-width="1"/>
<rect x="44.5" y="652.5" width="2" height="4" fill="#fff" stroke="#000" stroke-width="1" shape-rendering="crispEdges"/>
<line x1="48.5" y1="648.9" x2="48.5" y2="651.5" stroke="#000" stroke-width="1"/>
<rect x="47.0" y="650" width="3" height="2" fill="#000"/>
<rect x="51.5" y="646.5" width="2" height="2" fill="#fff" stroke="#000" stroke-width="1" shape-rendering="crispEdges"/>
<line x1="56.5" y1="641.5" x2="56.5" y2="650.3" stroke="#000" stroke-width="1"/>
<rect x="55.5" y="644.5" width="2" height="5" fill="#fff" stroke="#000" stroke-width="1" shape-rendering="crispEdges"/>
<line x1="59.5" y1="645.0" x2="59.5" y2="648.0" stroke="#000" stroke-width="1"/>
<rect x="58.0" y="647" width="3" height="2" fill="#000"/>
<line x1="63.5" y1="636.3" x2="63.5" y2="650.3" stroke="#000" stroke-width="1"/>
<rect x="62.5" y="638.5" width="2" height="11" fill="#fff" stroke="#000" stroke-width="1" shape-rendering="crispEdges"/>
<line x1="67.5" y1="636.3" x2="67.5" y2="658.5" stroke="#000" stroke-width="1"/>
<rect x="66.0" y="643" width="3" height="15" fill="#000"/>
<line x1="70.5" y1="639.3" x2="70.5" y2="660.2" stroke="#000" stroke-width="1"/>
<rect x="69.5" y="642.5" width="2" height="17" fill="#fff" stroke="#000" stroke-width="1" shape-rendering="crispEdges"/>
<line x1="74.5" y1="641.9" x2="74.5" y2="656.7" stroke="#000" stroke-width="1"/>
<rect x="73.5" y="642.5" width="2" height="8" fill="#fff" stroke="#000" stroke-width="1" shape-rendering="crispEdges"/>
<rect x="77.0" y="644" width="3" height="3" fill="#000"/>
<rect x="80.5" y="643.5" width="2" height="2" fill="#fff" stroke="#000" stroke-width="1" shape-rendering="crispEdges"/>
<rect x="84.5" y="640.5" width="2" height="2" fill="#fff" stroke="#000" stroke-width="1" shape-rendering="crispEdges"/>
<line x1="89.5" y1="633.2" x2="89.5" y2="638.7" stroke="#000" stroke-width="1"/>
<rect x="88.0" y="638" width="3" height="2" fill="#000"/>
<line x1="92.5" y1="633.5" x2="92.5" y2="645.7" stroke="#000" stroke-width="1"/>
<rect x="91.5" y="634.5" width="2" height="9" fill="#fff" stroke="#000" stroke-width="1" shape-rendering="crispEdges"/>
<line x1="96.5" y1="609.1" x2="96.5" y2="632.3" stroke="#000" stroke-width="1"/>
<rect x="95.5" y="630.5" width="2" height="2" fill="#fff" stroke="#000" stroke-width="1" shape-rendering="crispEdges"/>
<rect x="99.0" y="630" width="3" height="2" fill="#000"/>
<line x1="103.5" y1="631.9" x2="103.5" y2="638.4" stroke="#000" stroke-width="1"/>
<rect x="102.0" y="631" width="3" height="2" fill="#000"/>
<rect x="106.5" y="631.5" width="2" height="2" fill="#fff" stroke="#000" stroke-width="1" shape-rendering="crispEdges"/>
<rect x="110.0" y="634" width="3" height="2" fill="#000"/>
<rect x="113.5" y="633.5" width="2" height="3" fill="#fff" stroke="#000" stroke-width="1" shape-rendering="crispEdges"/>
<line x1="118.5" y1="635.4" x2="118.5" y2="639.3" stroke="#000" stroke-width="1"/>
<rect x="117.0" y="636" width="3" height="2" fill="#000"/>
<line x1="122.5" y1="637.2" x2="122.5" y2="643.3" stroke="#000" stroke-width="1"/>
<rect x="121.5" y="637.5" width="2" height="3" fill="#fff" stroke="#000" stroke-width="1" shape-rendering="crispEdges"/>
<rect x="124.0" y="639" width="3" height="2" fill="#000"/>
<rect x="128.0" y="639" width="3" height="2" fill="#000"/>
<rect x="132.0" y="639" width="3" height="2" fill="#000"/>
<rect x="135.0" y="639" width="3" height="2" fill="#000"/>
<line x1="140.5" y1="639.5" x2="140.5" y2="643.4" stroke="#000" stroke-width="1"/>
<rect x="139.5" y="640.5" width="2" height="2" fill="#fff" stroke="#000" stroke-width="1" shape-rendering="crispEdges"/>
<rect x="143.0" y="642" width="3" height="4" fill="#000"/>
<rect x="146.0" y="642" width="3" height="4" fill="#000"/>
<rect x="150.0" y="643" width="3" height="3" fill="#000"/>
<rect x="154.0" y="647" width="3" height="2" fill="#000"/>
<rect x="157.0" y="646" width="3" height="2" fill="#000"/>
<rect x="161.5" y="647.5" width="2" height="3" fill="#fff" stroke="#000" stroke-width="1" shape-rendering="crispEdges"/>
<rect x="165.5" y="646.5" width="2" height="5" fill="#fff" stroke="#000" stroke-width="1" shape-rendering="crispEdges"/>
<rect x="168.0" y="642" width="3" height="5" fill="#000"/>
<line x1="173.5" y1="645.1" x2="173.5" y2="648.6" stroke="#000" stroke-width="1"/>
<rect x="172.0" y="644" width="3" height="2" fill="#000"/>
<rect x="176.5" y="642.5" width="2" height="3" fill="#fff" stroke="#000" stroke-width="1" shape-rendering="crispEdges"/>
<rect x="179.0" y="640" width="3" height="2" fill="#000"/>
<line x1="184.5" y1="636.4" x2="184.5" y2="640.4" stroke="#000" stroke-width="1"/>
<rect x="183.5" y="638.5" width="2" height="2" fill="#fff" stroke="#000" stroke-width="1" shape-rendering="crispEdges"/>
<rect x="187.0" y="636" width="3" height="3" fill="#000"/>
<rect x="190.0" y="638" width="3" height="2" fill="#000"/>
<rect x="194.0" y="635" width="3" height="2" fill="#000"/>
<rect x="198.0" y="631" width="3" height="6" fill="#000"/>
<rect x="201.5" y="619.5" width="2" height="11" fill="#fff" stroke="#000" stroke-width="1" shape-rendering="crispEdges"/>
<rect x="205.5" y="592.5" width="2" height="27" fill="#fff" stroke="#000" stroke-width="1" shape-rendering="crispEdges"/>
<rect x="209.5" y="590.5" width="2" height="2" fill="#fff" stroke="#000" stroke-width="1" shape-rendering="crispEdges"/>
<rect x="212.0" y="588" width="3" height="2" fill="#000"/>
<rect x="216.0" y="587" width="3" height="2" fill="#000"/>
<rect x="220.0" y="587" width="3" height="2" fill="#000"/>
<rect x="223.5" y="586.5" width="2" height="2" fill="#fff" stroke="#000" stroke-width="1" shape-rendering="crispEdges"/>
<rect x="227.0" y="584" width="3" height="2" fill="#000"/>
<rect x="230.0" y="585" width="3" height="2" fill="#000"/>
<line x1="235.5" y1="582.8" x2="235.5" y2="585.2" stroke="#000" stroke-width="1"/>
<rect x="234.0" y="583" width="3" height="2" fill="#000"/>
<line x1="239.5" y1="576.5" x2="239.5" y2="582.3" stroke="#000" stroke-width="1"/>
<rect x="238.0" y="577" width="3" height="2" fill="#000"/>
<rect x="241.5" y="580.5" width="2" height="2" fill="#fff" stroke="#000" stroke-width="1" shape-rendering="crispEdges"/>
<rect x="245.5" y="581.5" width="2" height="4" fill="#fff" stroke="#000" stroke-width="1" shape-rendering="crispEdges"/>
<rect x="249.0" y="581" width="3" height="2" fill="#000"/>
<rect x="252.5" y="580.5" width="2" height="2" fill="#fff" stroke="#000" stroke-width="1" shape-rendering="crispEdges"/>
<rect x="256.0" y="578" width="3" height="3" fill="#000"/>
<line x1="261.5" y1="577.8" x2="261.5" y2="585.2" stroke="#000" stroke-width="1"/>
<rect x="260.0" y="583" width="3" height="2" fill="#000"/>
<rect x="263.0" y="583" width="3" height="4" fill="#000"/>
<rect x="267.0" y="584" width="3" height="3" fill="#000"/>
<rect x="271.0" y="584" width="3" height="2" fill="#000"/>
<rect x="274.0" y="584" width="3" height="2" fill="#000"/>
<rect x="278.0" y="583" width="3" height="3" fill="#000"/>
<rect x="282.0" y="583" width="3" height="3" fill="#000"/>
<line x1="286.5" y1="585.2" x2="286.5" y2="590.4" stroke="#000" stroke-width="1"/>
<rect x="285.0" y="585" width="3" height="2" fill="#000"/>
<rect x="289.0" y="586" width="3" height="2" fill="#000"/>
<line x1="294.5" y1="587.8" x2="294.5" y2="591.6" stroke="#000" stroke-width="1"/>
<rect x="293.0" y="587" width="3" height="2" fill="#000"/>
<line x1="297.5" y1="585.5" x2="297.5" y2="588.3" stroke="#000" stroke-width="1"/>
<rect x="296.0" y="586" width="3" height="2" fill="#000"/>
<rect x="300.0" y="586" width="3" height="2" fill="#000"/>
<rect x="304.0" y="586" width="3" height="2" fill="#000"/>
<rect x="307.0" y="586" width="3" height="2" fill="#000"/>
<rect x="311.0" y="587" width="3" height="2" fill="#000"/>
<rect x="315.0" y="587" width="3" height="2" fill="#000"/>
<rect x="318.0" y="586" width="3" height="2" fill="#000"/>
<rect x="322.0" y="586" width="3" height="2" fill="#000"/>
<line x1="327.5" y1="507.5" x2="327.5" y2="519.7" stroke="#000" stroke-width="1"/>
<rect x="326.5" y="512.5" width="2" height="4" fill="#fff" stroke="#000" stroke-width="1" shape-rendering="crispEdges"/>
<line x1="330.5" y1="516.2" x2="330.5" y2="526.7" stroke="#000" stroke-width="1"/>
<rect x="329.5" y="516.5" width="2" height="3" fill="#fff" stroke="#000" stroke-width="1" shape-rendering="crispEdges"/>
<line x1="334.5" y1="509.3" x2="334.5" y2="522.0" stroke="#000" stroke-width="1"/>
<rect x="333.5" y="518.5" width="2" height="3" fill="#fff" stroke="#000" stroke-width="1" shape-rendering="crispEdges"/>
<line x1="338.5" y1="511.9" x2="338.5" y2="521.5" stroke="#000" stroke-width="1"/>
<rect x="337.0" y="514" width="3" height="7" fill="#000"/>
<line x1="341.5" y1="503.2" x2="341.5" y2="526.7" stroke="#000" stroke-width="1"/>
<rect x="340.5" y="503.5" width="2" height="20" fill="#fff" stroke="#000" stroke-width="1" shape-rendering="crispEdges"/>
<line x1="345.5" y1="506.3" x2="345.5" y2="515.7" stroke="#000" stroke-width="1"/>
<rect x="344.0" y="506" width="3" height="7" fill="#000"/>
<line x1="349.5" y1="509.3" x2="349.5" y2="517.1" stroke="#000" stroke-width="1"/>
<rect x="348.0" y="512" width="3" height="2" fill="#000"/>
<line x1="352.5" y1="504.6" x2="352.5" y2="530.7" stroke="#000" stroke-width="1"/>
<rect x="351.5" y="505.5" width="2" height="8" fill="#fff" stroke="#000" stroke-width="1" shape-rendering="crispEdges"/>
<line x1="356.5" y1="501.4" x2="356.5" y2="515.7" stroke="#000" stroke-width="1"/>
<rect x="355.0" y="509" width="3" height="2" fill="#000"/>
<line x1="360.5" y1="495.3" x2="360.5" y2="521.5" stroke="#000" stroke-width="1"/>
<rect x="359.5" y="501.5" width="2" height="19" fill="#fff" stroke="#000" stroke-width="1" shape-rendering="crispEdges"/>
<line x1="363.5" y1="490.1" x2="363.5" y2="504.0" stroke="#000" stroke-width="1"/>
<rect x="362.0" y="490" width="3" height="11" fill="#000"/>
<rect x="366.0" y="495" width="3" height="8" fill="#000"/>
<rect x="370.5" y="492.5" width="2" height="9" fill="#fff" stroke="#000" stroke-width="1" shape-rendering="crispEdges"/>
<line x1="374.5" y1="485.5" x2="374.5" y2="492.8" stroke="#000" stroke-width="1"/>
<rect x="373.5" y="488.5" width="2" height="4" fill="#fff" stroke="#000" stroke-width="1" shape-rendering="crispEdges"/>
<line x1="378.5" y1="484.1" x2="378.5" y2="500.7" stroke="#000" stroke-width="1"/>
<rect x="377.0" y="486" width="3" height="2" fill="#000"/>
<rect x="381.0" y="485" width="3" height="4" fill="#000"/>
<rect x="384.5" y="487.5" width="2" height="4" fill="#fff" stroke="#000" stroke-width="1" shape-rendering="crispEdges"/>
<rect x="388.0" y="488" width="3" height="3" fill="#000"/>
<rect x="392.0" y="488" width="3" height="4" fill="#000"/>
<line x1="396.5" y1="485.5" x2="396.5" y2="494.6" stroke="#000" stroke-width="1"/>
<rect x="395.0" y="493" width="3" height="2" fill="#000"/>
<rect x="399.5" y="483.5" width="2" height="7" fill="#fff" stroke="#000" stroke-width="1" shape-rendering="crispEdges"/>
<line x1="404.5" y1="480.3" x2="404.5" y2="486.7" stroke="#000" stroke-width="1"/>
<rect x="403.0" y="483" width="3" height="2" fill="#000"/>
<rect x="406.0" y="484" width="3" height="3" fill="#000"/>
<rect x="410.0" y="482" width="3" height="2" fill="#000"/>
<line x1="415.5" y1="481.5" x2="415.5" y2="488.5" stroke="#000" stroke-width="1"/>
<rect x="414.0" y="481" width="3" height="4" fill="#000"/>
<rect x="417.0" y="487" width="3" height="2" fill="#000"/>
<line x1="422.5" y1="480.3" x2="422.5" y2="483.2" stroke="#000" stroke-width="1"/>
<rect x="421.0" y="482" width="3" height="2" fill="#000"/>
<rect x="425.0" y="483" width="3" height="2" fill="#000"/>
<rect x="428.0" y="481" width="3" height="2" fill="#000"/>
<rect x="432.0" y="477" width="3" height="2" fill="#000"/>
<line x1="437.5" y1="477.1" x2="437.5" y2="486.7" stroke="#000" stroke-width="1"/>
<rect x="436.0" y="477" width="3" height="4" fill="#000"/>
<line x1="440.5" y1="469.3" x2="440.5" y2="479.7" stroke="#000" stroke-width="1"/>
<rect x="439.5" y="472.5" width="2" height="7" fill="#fff" stroke="#000" stroke-width="1" shape-rendering="crispEdges"/>
<line x1="444.5" y1="470.5" x2="444.5" y2="475.7" stroke="#000" stroke-width="1"/>
<rect x="443.0" y="470" width="3" height="2" fill="#000"/>
<rect x="447.0" y="474" width="3" height="2" fill="#000"/>
<line x1="451.5" y1="472.8" x2="451.5" y2="484.4" stroke="#000" stroke-width="1"/>
<rect x="450.0" y="475" width="3" height="9" fill="#000"/>
<rect x="454.0" y="480" width="3" height="9" fill="#000"/>
<rect x="458.5" y="485.5" width="2" height="4" fill="#fff" stroke="#000" stroke-width="1" shape-rendering="crispEdges"/>
<rect x="461.5" y="479.5" width="2" height="7" fill="#fff" stroke="#000" stroke-width="1" shape-rendering="crispEdges"/>
<line x1="466.5" y1="477.1" x2="466.5" y2="484.1" stroke="#000" stroke-width="1"/>
<rect x="465.0" y="477" width="3" height="3" fill="#000"/>
<rect x="469.0" y="477" width="3" height="6" fill="#000"/>
<line x1="473.5" y1="476.2" x2="473.5" y2="485.5" stroke="#000" stroke-width="1"/>
<rect x="472.0" y="479" width="3" height="6" fill="#000"/>
<line x1="477.5" y1="480.6" x2="477.5" y2="492.8" stroke="#000" stroke-width="1"/>
<rect x="476.0" y="485" width="3" height="4" fill="#000"/>
<line x1="481.5" y1="480.6" x2="481.5" y2="491.1" stroke="#000" stroke-width="1"/>
<rect x="480.0" y="489" width="3" height="2" fill="#000"/>
<line x1="484.5" y1="485.8" x2="484.5" y2="491.4" stroke="#000" stroke-width="1"/>
<rect x="483.0" y="490" width="3" height="2" fill="#000"/>
<rect x="487.0" y="487" width="3" height="2" fill="#000"/>
<rect x="490.0" y="486" width="3" height="2" fill="#000"/>
<line x1="495.5" y1="475.4" x2="495.5" y2="485.8" stroke="#000" stroke-width="1"/>
<rect x="494.5" y="482.5" width="2" height="3" fill="#fff" stroke="#000" stroke-width="1" shape-rendering="crispEdges"/>
<line x1="499.5" y1="478.9" x2="499.5" y2="486.7" stroke="#000" stroke-width="1"/>
<rect x="498.0" y="479" width="3" height="3" fill="#000"/>
<rect x="501.0" y="480" width="3" height="4" fill="#000"/>
<line x1="506.5" y1="483.2" x2="506.5" y2="491.4" stroke="#000" stroke-width="1"/>
<rect x="505.0" y="486" width="3" height="2" fill="#000"/>
<rect x="509.0" y="484" width="3" height="5" fill="#000"/>
<line x1="513.5" y1="486.2" x2="513.5" y2="493.7" stroke="#000" stroke-width="1"/>
<rect x="512.5" y="486.5" width="2" height="5" fill="#fff" stroke="#000" stroke-width="1" shape-rendering="crispEdges"/>
<rect x="516.5" y="476.5" width="2" height="7" fill="#fff" stroke="#000" stroke-width="1" shape-rendering="crispEdges"/>
<line x1="521.5" y1="470.1" x2="521.5" y2="481.5" stroke="#000" stroke-width="1"/>
<rect x="520.5" y="470.5" width="2" height="6" fill="#fff" stroke="#000" stroke-width="1" shape-rendering="crispEdges"/>
<line x1="524.5" y1="470.5" x2="524.5" y2="481.5" stroke="#000" stroke-width="1"/>
<rect x="523.5" y="470.5" width="2" height="4" fill="#fff" stroke="#000" stroke-width="1" shape-rendering="crispEdges"/>
<rect x="527.5" y="472.5" width="2" height="2" fill="#fff" stroke="#000" stroke-width="1" shape-rendering="crispEdges"/>
<rect x="531.0" y="474" width="3" height="13" fill="#000"/>
<rect x="534.0" y="481" width="3" height="3" fill="#000"/>
<rect x="538.5" y="479.5" width="2" height="7" fill="#fff" stroke="#000" stroke-width="1" shape-rendering="crispEdges"/>
<rect x="542.0" y="483" width="3" height="4" fill="#000"/>
<rect x="545.5" y="477.5" width="2" height="9" fill="#fff" stroke="#000" stroke-width="1" shape-rendering="crispEdges"/>
<rect x="549.0" y="476" width="3" height="2" fill="#000"/>
<rect x="553.5" y="472.5" width="2" height="3" fill="#fff" stroke="#000" stroke-width="1" shape-rendering="crispEdges"/>
<rect x="556.0" y="471" width="3" height="2" fill="#000"/>
<line x1="561.5" y1="464.9" x2="561.5" y2="473.3" stroke="#000" stroke-width="1"/>
<rect x="560.5" y="468.5" width="2" height="4" fill="#fff" stroke="#000" stroke-width="1" shape-rendering="crispEdges"/>
<rect x="564.0" y="471" width="3" height="2" fill="#000"/>
<line x1="568.5" y1="469.8" x2="568.5" y2="472.8" stroke="#000" stroke-width="1"/>
<rect x="567.0" y="472" width="3" height="2" fill="#000"/>
<line x1="572.5" y1="469.8" x2="572.5" y2="474.5" stroke="#000" stroke-width="1"/>
<rect x="571.0" y="471" width="3" height="2" fill="#000"/>
<line x1="576.5" y1="468.7" x2="576.5" y2="473.3" stroke="#000" stroke-width="1"/>
<rect x="575.5" y="471.5" width="2" height="2" fill="#fff" stroke="#000" stroke-width="1" shape-rendering="crispEdges"/>
<rect x="578.0" y="474" width="3" height="5" fill="#000"/>
<line x1="583.5" y1="469.3" x2="583.5" y2="481.5" stroke="#000" stroke-width="1"/>
<rect x="582.5" y="469.5" width="2" height="10" fill="#fff" stroke="#000" stroke-width="1" shape-rendering="crispEdges"/>
<rect x="586.5" y="468.5" width="2" height="4" fill="#fff" stroke="#000" stroke-width="1" shape-rendering="crispEdges"/>
<rect x="589.5" y="466.5" width="2" height="2" fill="#fff" stroke="#000" stroke-width="1" shape-rendering="crispEdges"/>
<rect x="593.0" y="463" width="3" height="2" fill="#000"/>
<line x1="598.5" y1="462.3" x2="598.5" y2="471.9" stroke="#000" stroke-width="1"/>
<rect x="597.0" y="466" width="3" height="3" fill="#000"/>
<rect x="600.5" y="464.5" width="2" height="2" fill="#fff" stroke="#000" stroke-width="1" shape-rendering="crispEdges"/>
<rect x="604.0" y="463" width="3" height="2" fill="#000"/>
<rect x="608.0" y="462" width="3" height="11" fill="#000"/>
<rect x="611.0" y="471" width="3" height="3" fill="#000"/>
<rect x="615.0" y="472" width="3" height="2" fill="#000"/>
<rect x="619.0" y="472" width="3" height="4" fill="#000"/>
<rect x="622.0" y="473" width="3" height="3" fill="#000"/>
<line x1="627.5" y1="480.3" x2="627.5" y2="481.7" stroke="#000" stroke-width="1"/>
<rect x="626.0" y="479" width="3" height="2" fill="#000"/>
<rect x="630.5" y="476.5" width="2" height="2" fill="#fff" stroke="#000" stroke-width="1" shape-rendering="crispEdges"/>
<line x1="634.5" y1="476.2" x2="634.5" y2="478.9" stroke="#000" stroke-width="1"/>
<rect x="633.0" y="475" width="3" height="2" fill="#000"/>
<rect x="637.0" y="473" width="3" height="2" fill="#000"/>
<rect x="641.0" y="472" width="3" height="6" fill="#000"/>
<rect x="644.0" y="474" width="3" height="2" fill="#000"/>
<line x1="649.5" y1="474.5" x2="649.5" y2="475.7" stroke="#000" stroke-width="1"/>
<rect x="648.0" y="473" width="3" height="2" fill="#000"/>
<rect x="652.5" y="462.5" width="2" height="13" fill="#fff" stroke="#000" stroke-width="1" shape-rendering="crispEdges"/>
<rect x="655.5" y="458.5" width="2" height="5" fill="#fff" stroke="#000" stroke-width="1" shape-rendering="crispEdges"/>
<line x1="660.5" y1="457.6" x2="660.5" y2="468.7" stroke="#000" stroke-width="1"/>
<rect x="659.5" y="458.5" width="2" height="6" fill="#fff" stroke="#000" stroke-width="1" shape-rendering="crispEdges"/>
<rect x="663.0" y="456" width="3" height="8" fill="#000"/>
<rect x="666.5" y="461.5" width="2" height="4" fill="#fff" stroke="#000" stroke-width="1" shape-rendering="crispEdges"/>
<line x1="671.5" y1="464.0" x2="671.5" y2="473.3" stroke="#000" stroke-width="1"/>
<rect x="670.0" y="464" width="3" height="8" fill="#000"/>
<rect x="674.5" y="471.5" width="2" height="2" fill="#fff" stroke="#000" stroke-width="1" shape-rendering="crispEdges"/>
<rect x="677.0" y="471" width="3" height="2" fill="#000"/>
<line x1="682.5" y1="457.6" x2="682.5" y2="467.5" stroke="#000" stroke-width="1"/>
<rect x="681.5" y="460.5" width="2" height="7" fill="#fff" stroke="#000" stroke-width="1" shape-rendering="crispEdges"/>
<rect x="685.0" y="458" width="3" height="2" fill="#000"/>
<rect x="688.0" y="458" width="3" height="3" fill="#000"/>
<line x1="693.5" y1="450.1" x2="693.5" y2="462.3" stroke="#000" stroke-width="1"/>
<rect x="692.5" y="458.5" width="2" height="3" fill="#fff" stroke="#000" stroke-width="1" shape-rendering="crispEdges"/>
<rect x="696.0" y="462" width="3" height="3" fill="#000"/>
<line x1="700.5" y1="453.6" x2="700.5" y2="470.5" stroke="#000" stroke-width="1"/>
<rect x="699.5" y="455.5" width="2" height="14" fill="#fff" stroke="#000" stroke-width="1" shape-rendering="crispEdges"/>
<line x1="704.5" y1="452.7" x2="704.5" y2="470.5" stroke="#000" stroke-width="1"/>
<rect x="703.5" y="455.5" width="2" height="14" fill="#fff" stroke="#000" stroke-width="1" shape-rendering="crispEdges"/>
<line x1="707" y1="455.7" x2="713" y2="455.7" stroke="#000" stroke-width="1"/>
<path d="M106,608 L109,608 L109,614 L112,614 L112,615 L111,615 L111,616 L111,616 L111,617 L110,617 L110,618 L110,618 L110,619 L109,619 L109,620 L109,620 L109,621 L108,621 L108,622 L108,622 L108,623 L107,623 L107,622 L107,622 L107,621 L106,621 L106,620 L106,620 L106,619 L105,619 L105,618 L105,618 L105,617 L104,617 L104,616 L104,616 L104,615 L103,615 L103,614 L106,614Z" fill="#f00" shape-rendering="crispEdges"/>
<path d="M263,560 L266,560 L266,566 L269,566 L269,567 L268,567 L268,568 L268,568 L268,569 L267,569 L267,570 L267,570 L267,571 L266,571 L266,572 L266,572 L266,573 L265,573 L265,574 L265,574 L265,575 L264,575 L264,574 L264,574 L264,573 L263,573 L263,572 L263,572 L263,571 L262,571 L262,570 L262,570 L262,569 L261,569 L261,568 L261,568 L261,567 L260,567 L260,566 L263,566Z" fill="#f00" shape-rendering="crispEdges"/>
<path d="M399,461 L402,461 L402,467 L405,467 L405,468 L404,468 L404,469 L404,469 L404,470 L403,470 L403,471 L403,471 L403,472 L402,472 L402,473 L402,473 L402,474 L401,474 L401,475 L401,475 L401,476 L400,476 L400,475 L400,475 L400,474 L399,474 L399,473 L399,473 L399,472 L398,472 L398,471 L398,471 L398,470 L397,470 L397,469 L397,469 L397,468 L396,468 L396,467 L399,467Z" fill="#f00" shape-rendering="crispEdges"/>
<path d="M421,456 L424,456 L424,462 L427,462 L427,463 L426,463 L426,464 L426,464 L426,465 L425,465 L425,466 L425,466 L425,467 L424,467 L424,468 L424,468 L424,469 L423,469 L423,470 L423,470 L423,471 L422,471 L422,470 L422,470 L422,469 L421,469 L421,468 L421,468 L421,467 L420,467 L420,466 L420,466 L420,465 L419,465 L419,464 L419,464 L419,463 L418,463 L418,462 L421,462Z" fill="#f00" shape-rendering="crispEdges"/>
<path d="M450,449 L453,449 L453,455 L456,455 L456,456 L455,456 L455,457 L455,457 L455,458 L454,458 L454,459 L454,459 L454,460 L453,460 L453,461 L453,461 L453,462 L452,462 L452,463 L452,463 L452,464 L451,464 L451,463 L451,463 L451,462 L450,462 L450,461 L450,461 L450,460 L449,460 L449,459 L449,459 L449,458 L448,458 L448,457 L448,457 L448,456 L447,456 L447,455 L450,455Z" fill="#f00" shape-rendering="crispEdges"/>
<path d="M538,456 L541,456 L541,462 L544,462 L544,463 L543,463 L543,464 L543,464 L543,465 L542,465 L542,466 L542,466 L542,467 L541,467 L541,468 L541,468 L541,469 L540,469 L540,470 L540,470 L540,471 L539,471 L539,470 L539,470 L539,469 L538,469 L538,468 L538,468 L538,467 L537,467 L537,466 L537,466 L537,465 L536,465 L536,464 L536,464 L536,463 L535,463 L535,462 L538,462Z" fill="#f00" shape-rendering="crispEdges"/>
<path d="M578,452 L581,452 L581,458 L584,458 L584,459 L583,459 L583,460 L583,460 L583,461 L582,461 L582,462 L582,462 L582,463 L581,463 L581,464 L581,464 L581,465 L580,465 L580,466 L580,466 L580,467 L579,467 L579,466 L579,466 L579,465 L578,465 L578,464 L578,464 L578,463 L577,463 L577,462 L577,462 L577,461 L576,461 L576,460 L576,460 L576,459 L575,459 L575,458 L578,458Z" fill="#f00" shape-rendering="crispEdges"/>
<path d="M611,447 L614,447 L614,453 L617,453 L617,454 L616,454 L616,455 L616,455 L616,456 L615,456 L615,457 L615,457 L615,458 L614,458 L614,459 L614,459 L614,460 L613,460 L613,461 L613,461 L613,462 L612,462 L612,461 L612,461 L612,460 L611,460 L611,459 L611,459 L611,458 L610,458 L610,457 L610,457 L610,456 L609,456 L609,455 L609,455 L609,454 L608,454 L608,453 L611,453Z" fill="#f00" shape-rendering="crispEdges"/>
<path d="M674,448 L677,448 L677,454 L680,454 L680,455 L679,455 L679,456 L679,456 L679,457 L678,457 L678,458 L678,458 L678,459 L677,459 L677,460 L677,460 L677,461 L676,461 L676,462 L676,462 L676,463 L675,463 L675,462 L675,462 L675,461 L674,461 L674,460 L674,460 L674,459 L673,459 L673,458 L673,458 L673,457 L672,457 L672,456 L672,456 L672,455 L671,455 L671,454 L674,454Z" fill="#f00" shape-rendering="crispEdges"/>
<path d="M4,703 L7,703 L7,697 L10,697 L10,696 L9,696 L9,695 L9,695 L9,694 L8,694 L8,693 L8,693 L8,692 L7,692 L7,691 L7,691 L7,690 L6,690 L6,689 L6,689 L6,688 L5,688 L5,689 L5,689 L5,690 L4,690 L4,691 L4,691 L4,692 L3,692 L3,693 L3,693 L3,694 L2,694 L2,695 L2,695 L2,696 L1,696 L1,697 L4,697Z" fill="#009600" shape-rendering="crispEdges"/>
<path d="M172,670 L175,670 L175,664 L178,664 L178,663 L177,663 L177,662 L177,662 L177,661 L176,661 L176,660 L176,660 L176,659 L175,659 L175,658 L175,658 L175,657 L174,657 L174,656 L174,656 L174,655 L173,655 L173,656 L173,656 L173,657 L172,657 L172,658 L172,658 L172,659 L171,659 L171,660 L171,660 L171,661 L170,661 L170,662 L170,662 L170,663 L169,663 L169,664 L172,664Z" fill="#009600" shape-rendering="crispEdges"/>
<path d="M315,609 L318,609 L318,603 L321,603 L321,602 L320,602 L320,601 L320,601 L320,600 L319,600 L319,599 L319,599 L319,598 L318,598 L318,597 L318,597 L318,596 L317,596 L317,595 L317,595 L317,594 L316,594 L316,595 L316,595 L316,596 L315,596 L315,597 L315,597 L315,598 L314,598 L314,599 L314,599 L314,600 L313,600 L313,601 L313,601 L313,602 L312,602 L312,603 L315,603Z" fill="#009600" shape-rendering="crispEdges"/>
<path d="M498,509 L501,509 L501,503 L504,503 L504,502 L503,502 L503,501 L503,501 L503,500 L502,500 L502,499 L502,499 L502,498 L501,498 L501,497 L501,497 L501,496 L500,496 L500,495 L500,495 L500,494 L499,494 L499,495 L499,495 L499,496 L498,496 L498,497 L498,497 L498,498 L497,498 L497,499 L497,499 L497,500 L496,500 L496,501 L496,501 L496,502 L495,502 L495,503 L498,503Z" fill="#009600" shape-rendering="crispEdges"/>
<path d="M516,507 L519,507 L519,501 L522,501 L522,500 L521,500 L521,499 L521,499 L521,498 L520,498 L520,497 L520,497 L520,496 L519,496 L519,495 L519,495 L519,494 L518,494 L518,493 L518,493 L518,492 L517,492 L517,493 L517,493 L517,494 L516,494 L516,495 L516,495 L516,496 L515,496 L515,497 L515,497 L515,498 L514,498 L514,499 L514,499 L514,500 L513,500 L513,501 L516,501Z" fill="#009600" shape-rendering="crispEdges"/>
<path d="M553,496 L556,496 L556,490 L559,490 L559,489 L558,489 L558,488 L558,488 L558,487 L557,487 L557,486 L557,486 L557,485 L556,485 L556,484 L556,484 L556,483 L555,483 L555,482 L555,482 L555,481 L554,481 L554,482 L554,482 L554,483 L553,483 L553,484 L553,484 L553,485 L552,485 L552,486 L552,486 L552,487 L551,487 L551,488 L551,488 L551,489 L550,489 L550,490 L553,490Z" fill="#009600" shape-rendering="crispEdges"/>
<path d="M648,498 L651,498 L651,492 L654,492 L654,491 L653,491 L653,490 L653,490 L653,489 L652,489 L652,488 L652,488 L652,487 L651,487 L651,486 L651,486 L651,485 L650,485 L650,484 L650,484 L650,483 L649,483 L649,484 L649,484 L649,485 L648,485 L648,486 L648,486 L648,487 L647,487 L647,488 L647,488 L647,489 L646,489 L646,490 L646,490 L646,491 L645,491 L645,492 L648,492Z" fill="#009600" shape-rendering="crispEdges"/>
<path d="M3.5,416.5 H719.5 V731.5 H3.5 Z" fill="none" stroke="#000" stroke-width="1" shape-rendering="crispEdges"/>
<line x1="719.5" y1="423.5" x2="724" y2="423.5" stroke="#000" shape-rendering="crispEdges"/>
<text x="776" y="426.8"  text-anchor="end">45</text>
<line x1="719.5" y1="478.5" x2="724" y2="478.5" stroke="#000" shape-rendering="crispEdges"/>
<text x="776" y="481.8"  text-anchor="end">40</text>
<line x1="719.5" y1="532.5" x2="724" y2="532.5" stroke="#000" shape-rendering="crispEdges"/>
<text x="776" y="535.8"  text-anchor="end">35</text>
<line x1="719.5" y1="586.5" x2="724" y2="586.5" stroke="#000" shape-rendering="crispEdges"/>
<text x="776" y="589.8"  text-anchor="end">30</text>
<line x1="719.5" y1="640.5" x2="724" y2="640.5" stroke="#000" shape-rendering="crispEdges"/>
<text x="776" y="643.8"  text-anchor="end">25</text>
<line x1="719.5" y1="694.5" x2="724" y2="694.5" stroke="#000" shape-rendering="crispEdges"/>
<text x="776" y="697.8"  text-anchor="end">20</text>
<text x="9.5" y="742.5" >Nov</text>
<line x1="100.5" y1="731.5" x2="100.5" y2="738.5" stroke="#000" shape-rendering="crispEdges"/>
<text x="104.3" y="742.5" >2025</text>
<line x1="173" y1="731.5" x2="173" y2="738.5" stroke="#000" shape-rendering="crispEdges"/>
<text x="176.8" y="742.5" >Feb</text>
<line x1="243.7" y1="731.5" x2="243.7" y2="738.5" stroke="#000" shape-rendering="crispEdges"/>
<text x="247.5" y="742.5" >Mar</text>
<line x1="320" y1="731.5" x2="320" y2="738.5" stroke="#000" shape-rendering="crispEdges"/>
<text x="323.8" y="742.5" >Apr</text>
<line x1="396" y1="731.5" x2="396" y2="738.5" stroke="#000" shape-rendering="crispEdges"/>
<text x="399.8" y="742.5" >May</text>
<line x1="473.3" y1="731.5" x2="473.3" y2="738.5" stroke="#000" shape-rendering="crispEdges"/>
<text x="477.1" y="742.5" >Jun</text>
<line x1="546.7" y1="731.5" x2="546.7" y2="738.5" stroke="#000" shape-rendering="crispEdges"/>
<text x="550.5" y="742.5" >Jul</text>
<line x1="627.3" y1="731.5" x2="627.3" y2="738.5" stroke="#000" shape-rendering="crispEdges"/>
<text x="631.1" y="742.5" >Aug</text>
<line x1="708.7" y1="731.5" x2="708.7" y2="738.5" stroke="#000" shape-rendering="crispEdges"/>
<text x="712.5" y="742.5" >Sep</text>
<rect x="10" y="410" width="393.5" height="14" fill="#fff"/>
<rect x="10" y="424" width="268" height="14" fill="#fff"/>
<text x="10.7" y="421.6"  fill="#000" textLength="284.8" lengthAdjust="spacing">OPOF - Daily 2025-09-03 Open 42.1,Hi 42.1,Lo 42.1,</text>
<text x="300.1" y="421.6"  fill="#000" textLength="97.6" lengthAdjust="spacing">Close 42.1 (0.0%)</text>
<text x="10.7" y="435.6"  fill="#000" textLength="25.6" lengthAdjust="spacing">Vol 0</text>
<text x="40.9" y="435.6"  fill="#f00" textLength="19.9" lengthAdjust="spacing">Top</text>
<text x="65.4" y="435.6"  fill="#000" textLength="42.0" lengthAdjust="spacing">= 41.50,</text>
<text x="111.4" y="435.6"  fill="#009600" textLength="38.3" lengthAdjust="spacing">Bottom</text>
<text x="153.7" y="435.6"  fill="#000" textLength="42.5" lengthAdjust="spacing">= 39.94,</text>
<text x="200.3" y="435.6"  fill="#00f" textLength="31.5" lengthAdjust="spacing">Trend</text>
<text x="235.8" y="435.6"  fill="#000" textLength="40.0" lengthAdjust="spacing">= 44.03</text>
</svg></body></html>
